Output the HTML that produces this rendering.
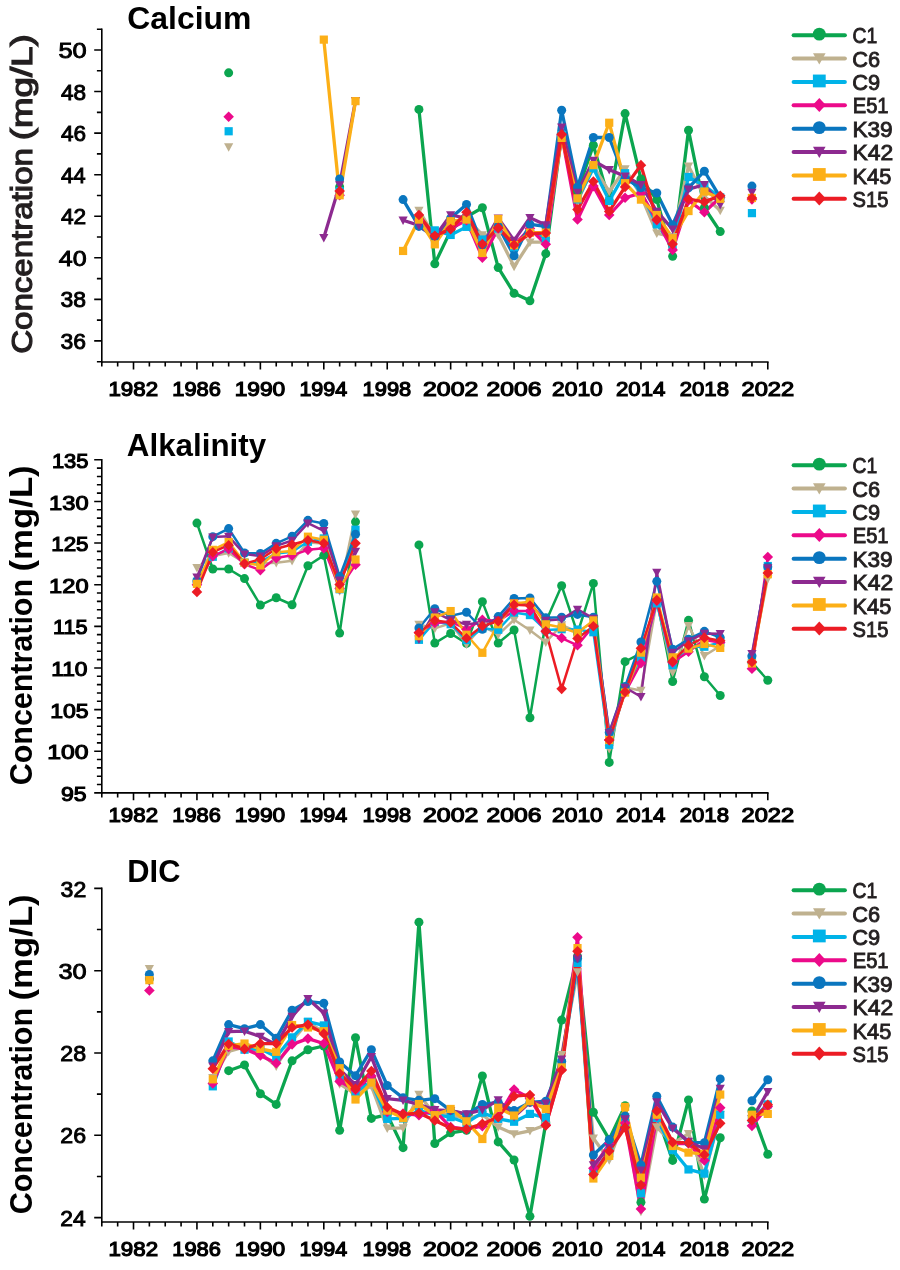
<!DOCTYPE html>
<html lang="en">
<head>
<meta charset="utf-8">
<title>Calcium, Alkalinity and DIC concentrations</title>
<style>
html,body{margin:0;padding:0;background:#fff;}
body{width:900px;height:1270px;overflow:hidden;}
svg{display:block;font-family:"Liberation Sans",Arial,Helvetica,sans-serif;font-weight:bold;fill:#000;}
.tk{font-size:21.7px;font-weight:normal;stroke:#000;stroke-width:0.9px;stroke-linejoin:miter;}
.lg{font-size:22.3px;fill:#231f20;font-weight:normal;stroke:#231f20;stroke-width:0.9px;stroke-linejoin:miter;}
.yl{font-size:30.0px;fill:#231f20;font-weight:normal;stroke:#231f20;stroke-width:1.2px;stroke-linejoin:miter;}
.xk{font-size:20.8px;font-weight:normal;stroke:#000;stroke-width:1.2px;stroke-linejoin:miter;}
.tk2{font-size:20.9px;font-weight:normal;stroke:#000;stroke-width:1.15px;stroke-linejoin:miter;}
.ti{font-size:30.6px;}
</style>
</head>
<body>
<svg width="900" height="1270" viewBox="0 0 900 1270">
<rect x="0" y="0" width="900" height="1270" fill="#fff"/>
<g>
<g stroke="#000" stroke-width="1.6" fill="none">
<path d="M101.8 28.42V362.8"/>
<path d="M101 362H768.59"/>
<path d="M101.8 340.92H94.2M101.8 299.36H94.2M101.8 257.8H94.2M101.8 216.24H94.2M101.8 174.68H94.2M101.8 133.12H94.2M101.8 91.56H94.2M101.8 50H94.2M101.8 361.7H96.9M101.8 320.14H96.9M101.8 278.58H96.9M101.8 237.02H96.9M101.8 195.46H96.9M101.8 153.9H96.9M101.8 112.34H96.9M101.8 70.78H96.9M101.8 29.22H96.9M101.8 362V366.6M117.66 362V366.6M133.51 362V369.4M149.37 362V366.6M165.23 362V366.6M181.08 362V366.6M196.94 362V369.4M212.8 362V366.6M228.66 362V366.6M244.51 362V366.6M260.37 362V369.4M276.23 362V366.6M292.08 362V366.6M307.94 362V366.6M323.8 362V369.4M339.65 362V366.6M355.51 362V366.6M371.37 362V366.6M387.23 362V369.4M403.08 362V366.6M418.94 362V366.6M434.8 362V366.6M450.65 362V369.4M466.51 362V366.6M482.37 362V366.6M498.22 362V366.6M514.08 362V369.4M529.94 362V366.6M545.8 362V366.6M561.65 362V366.6M577.51 362V369.4M593.37 362V366.6M609.22 362V366.6M625.08 362V366.6M640.94 362V369.4M656.79 362V366.6M672.65 362V366.6M688.51 362V366.6M704.37 362V369.4M720.22 362V366.6M736.08 362V366.6M751.94 362V366.6M767.79 362V369.4"/>
</g>
<g>
<text class="tk" x="58.43" y="57.94" textLength="28.28" lengthAdjust="spacingAndGlyphs">50</text>
<text class="tk" x="60.94" y="99.5" textLength="25.12" lengthAdjust="spacingAndGlyphs">48</text>
<text class="tk" x="60.94" y="141.06" textLength="25.12" lengthAdjust="spacingAndGlyphs">46</text>
<text class="tk" x="60.95" y="182.62" textLength="24.77" lengthAdjust="spacingAndGlyphs">44</text>
<text class="tk" x="60.94" y="224.18" textLength="25.3" lengthAdjust="spacingAndGlyphs">42</text>
<text class="tk" x="58.89" y="265.74" textLength="27.81" lengthAdjust="spacingAndGlyphs">40</text>
<text class="tk" x="60.59" y="307.3" textLength="25.49" lengthAdjust="spacingAndGlyphs">38</text>
<text class="tk" x="60.59" y="348.86" textLength="25.49" lengthAdjust="spacingAndGlyphs">36</text>
</g>
<g>
<text class="xk" x="108.49" y="396.2" textLength="49.53" lengthAdjust="spacingAndGlyphs">1982</text>
<text class="xk" x="172.36" y="396.2" textLength="48.51" lengthAdjust="spacingAndGlyphs">1986</text>
<text class="xk" x="234.66" y="396.2" textLength="50.61" lengthAdjust="spacingAndGlyphs">1990</text>
<text class="xk" x="299.44" y="396.2" textLength="47.75" lengthAdjust="spacingAndGlyphs">1994</text>
<text class="xk" x="362.64" y="396.2" textLength="48.51" lengthAdjust="spacingAndGlyphs">1998</text>
<text class="xk" x="422.96" y="396.2" textLength="55.45" lengthAdjust="spacingAndGlyphs">2002</text>
<text class="xk" x="486.55" y="396.2" textLength="54.94" lengthAdjust="spacingAndGlyphs">2006</text>
<text class="xk" x="551.97" y="396.2" textLength="50.85" lengthAdjust="spacingAndGlyphs">2010</text>
<text class="xk" x="616.03" y="396.2" textLength="49.37" lengthAdjust="spacingAndGlyphs">2014</text>
<text class="xk" x="679.66" y="396.2" textLength="49.3" lengthAdjust="spacingAndGlyphs">2018</text>
<text class="xk" x="741.51" y="396.2" textLength="52.62" lengthAdjust="spacingAndGlyphs">2022</text>
</g>
<text class="ti" x="127.32" y="28.7" textLength="124.08" lengthAdjust="spacingAndGlyphs">Calcium</text>
<text class="yl" transform="translate(32.3 352.8) rotate(-90)" y="0"><tspan x="-1.05" textLength="205.84" lengthAdjust="spacingAndGlyphs">Concentration</tspan> <tspan x="212.51" textLength="106.05" lengthAdjust="spacingAndGlyphs">(mg/L)</tspan></text>
<g fill="none" stroke-width="3.3" stroke-linejoin="round" stroke-linecap="round">
<path d="M418.94 109.44L434.8 263.83L450.65 230.59L466.51 216.87L482.37 207.73L498.22 267.57L514.08 293.34L529.94 300.82L545.8 253.65L561.65 135L577.51 191.1L593.37 145.18L609.22 200.87L625.08 113.59L640.94 179.05L656.79 199.62L672.65 256.35L688.51 130.22L704.37 207.73L720.22 231.62" stroke="#0ba54f"/>
<path d="M418.94 210.43L434.8 236.82L450.65 224.35L466.51 218.12L482.37 234.95L498.22 234.95L514.08 266.54L529.94 242.22L545.8 242.01L561.65 135L577.51 201.49L593.37 166.17L609.22 191.52L625.08 168.87L640.94 195.26L656.79 233.08L672.65 236.82L688.51 166.17L704.37 196.3L720.22 210.43" stroke="#bfb18f"/>
<path d="M418.94 224.35L434.8 230.38L450.65 234.95L466.51 226.85L482.37 239.52L498.22 228.51L514.08 247.21L529.94 230.59L545.8 238.48L561.65 135L577.51 199.42L593.37 168.25L609.22 200.87L625.08 173.23L640.94 192.14L656.79 224.35L672.65 245.13L688.51 176.97L704.37 185.91L720.22 197.34" stroke="#00b3e8"/>
<path d="M418.94 220.2L434.8 236.82L450.65 228.51L466.51 220.2L482.37 257.6L498.22 228.51L514.08 245.13L529.94 228.51L545.8 244.3L561.65 135L577.51 219.57L593.37 186.12L609.22 215L625.08 197.75L640.94 193.18L656.79 220.2L672.65 249.91L688.51 200.45L704.37 212.3L720.22 197.34" stroke="#ec0a8a"/>
<path d="M403.08 199.62L418.94 226.43L434.8 236.82L450.65 218.12L466.51 204.4L482.37 245.13L498.22 226.43L514.08 255.73L529.94 224.35L545.8 226.43L561.65 110.27L577.51 186.95L593.37 137.49L609.22 137.49L625.08 178.64L640.94 187.78L656.79 192.97L672.65 224.98L688.51 187.78L704.37 171.16L720.22 197.34" stroke="#0a76bf"/>
<path d="M323.8 237.65L339.65 184.87L355.51 100.71M403.08 220.2L418.94 225.39L434.8 236.82L450.65 215L466.51 218.12L482.37 245.13L498.22 218.12L514.08 240.35L529.94 217.7L545.8 224.98L561.65 127.1L577.51 192.35L593.37 160.56L609.22 169.7L625.08 176.14L640.94 184.66L656.79 211.47L672.65 229.13L688.51 189.23L704.37 184.66L720.22 204.61" stroke="#8d2a90"/>
<path d="M323.8 39.62L339.65 195.26L355.51 101.13M403.08 250.95L418.94 219.57L434.8 244.3L450.65 221.23L466.51 219.57L482.37 253.03L498.22 218.95L514.08 245.13L529.94 232.66L545.8 232.66L561.65 137.91L577.51 198.38L593.37 165.13L609.22 122.74L625.08 183.21L640.94 199.62L656.79 215L672.65 238.27L688.51 211.05L704.37 191.52L720.22 198.79" stroke="#fcaf17"/>
<path d="M418.94 215L434.8 235.78L450.65 229.13L466.51 212.3L482.37 244.09L498.22 227.68L514.08 244.92L529.94 233.7L545.8 233.08L561.65 134.37L577.51 209.6L593.37 181.55L609.22 211.47L625.08 186.95L640.94 165.13L656.79 219.57L672.65 244.09L688.51 199.21L704.37 201.91L720.22 195.68" stroke="#ec1c24"/>
</g>
<g>
<circle cx="228.66" cy="72.87" r="4.5" fill="#0ba54f"/>
<circle cx="339.65" cy="186.95" r="4.5" fill="#0ba54f"/>
<circle cx="418.94" cy="109.44" r="4.5" fill="#0ba54f"/>
<circle cx="434.8" cy="263.83" r="4.5" fill="#0ba54f"/>
<circle cx="450.65" cy="230.59" r="4.5" fill="#0ba54f"/>
<circle cx="466.51" cy="216.87" r="4.5" fill="#0ba54f"/>
<circle cx="482.37" cy="207.73" r="4.5" fill="#0ba54f"/>
<circle cx="498.22" cy="267.57" r="4.5" fill="#0ba54f"/>
<circle cx="514.08" cy="293.34" r="4.5" fill="#0ba54f"/>
<circle cx="529.94" cy="300.82" r="4.5" fill="#0ba54f"/>
<circle cx="545.8" cy="253.65" r="4.5" fill="#0ba54f"/>
<circle cx="561.65" cy="135" r="4.5" fill="#0ba54f"/>
<circle cx="577.51" cy="191.1" r="4.5" fill="#0ba54f"/>
<circle cx="593.37" cy="145.18" r="4.5" fill="#0ba54f"/>
<circle cx="609.22" cy="200.87" r="4.5" fill="#0ba54f"/>
<circle cx="625.08" cy="113.59" r="4.5" fill="#0ba54f"/>
<circle cx="640.94" cy="179.05" r="4.5" fill="#0ba54f"/>
<circle cx="656.79" cy="199.62" r="4.5" fill="#0ba54f"/>
<circle cx="672.65" cy="256.35" r="4.5" fill="#0ba54f"/>
<circle cx="688.51" cy="130.22" r="4.5" fill="#0ba54f"/>
<circle cx="704.37" cy="207.73" r="4.5" fill="#0ba54f"/>
<circle cx="720.22" cy="231.62" r="4.5" fill="#0ba54f"/>
<path d="M224.06 143.14L233.26 143.14L228.66 151.64Z" fill="#bfb18f"/>
<path d="M335.05 189.48L344.25 189.48L339.65 197.98Z" fill="#bfb18f"/>
<path d="M414.34 206.73L423.54 206.73L418.94 215.23Z" fill="#bfb18f"/>
<path d="M430.2 233.12L439.4 233.12L434.8 241.62Z" fill="#bfb18f"/>
<path d="M446.05 220.65L455.25 220.65L450.65 229.15Z" fill="#bfb18f"/>
<path d="M461.91 214.42L471.11 214.42L466.51 222.92Z" fill="#bfb18f"/>
<path d="M477.77 231.25L486.97 231.25L482.37 239.75Z" fill="#bfb18f"/>
<path d="M493.62 231.25L502.82 231.25L498.22 239.75Z" fill="#bfb18f"/>
<path d="M509.48 262.84L518.68 262.84L514.08 271.34Z" fill="#bfb18f"/>
<path d="M525.34 238.52L534.54 238.52L529.94 247.02Z" fill="#bfb18f"/>
<path d="M541.2 238.31L550.4 238.31L545.8 246.81Z" fill="#bfb18f"/>
<path d="M557.05 131.3L566.25 131.3L561.65 139.8Z" fill="#bfb18f"/>
<path d="M572.91 197.79L582.11 197.79L577.51 206.29Z" fill="#bfb18f"/>
<path d="M588.77 162.47L597.97 162.47L593.37 170.97Z" fill="#bfb18f"/>
<path d="M604.62 187.82L613.82 187.82L609.22 196.32Z" fill="#bfb18f"/>
<path d="M620.48 165.17L629.68 165.17L625.08 173.67Z" fill="#bfb18f"/>
<path d="M636.34 191.56L645.54 191.56L640.94 200.06Z" fill="#bfb18f"/>
<path d="M652.19 229.38L661.39 229.38L656.79 237.88Z" fill="#bfb18f"/>
<path d="M668.05 233.12L677.25 233.12L672.65 241.62Z" fill="#bfb18f"/>
<path d="M683.91 162.47L693.11 162.47L688.51 170.97Z" fill="#bfb18f"/>
<path d="M699.77 192.6L708.97 192.6L704.37 201.1Z" fill="#bfb18f"/>
<path d="M715.62 206.73L724.82 206.73L720.22 215.23Z" fill="#bfb18f"/>
<rect x="224.56" y="127.16" width="8.2" height="8.2" fill="#00b3e8"/>
<rect x="335.55" y="187" width="8.2" height="8.2" fill="#00b3e8"/>
<rect x="414.84" y="220.25" width="8.2" height="8.2" fill="#00b3e8"/>
<rect x="430.7" y="226.28" width="8.2" height="8.2" fill="#00b3e8"/>
<rect x="446.55" y="230.85" width="8.2" height="8.2" fill="#00b3e8"/>
<rect x="462.41" y="222.75" width="8.2" height="8.2" fill="#00b3e8"/>
<rect x="478.27" y="235.42" width="8.2" height="8.2" fill="#00b3e8"/>
<rect x="494.12" y="224.41" width="8.2" height="8.2" fill="#00b3e8"/>
<rect x="509.98" y="243.11" width="8.2" height="8.2" fill="#00b3e8"/>
<rect x="525.84" y="226.49" width="8.2" height="8.2" fill="#00b3e8"/>
<rect x="541.7" y="234.38" width="8.2" height="8.2" fill="#00b3e8"/>
<rect x="557.55" y="130.9" width="8.2" height="8.2" fill="#00b3e8"/>
<rect x="573.41" y="195.32" width="8.2" height="8.2" fill="#00b3e8"/>
<rect x="589.27" y="164.15" width="8.2" height="8.2" fill="#00b3e8"/>
<rect x="605.12" y="196.77" width="8.2" height="8.2" fill="#00b3e8"/>
<rect x="620.98" y="169.13" width="8.2" height="8.2" fill="#00b3e8"/>
<rect x="636.84" y="188.04" width="8.2" height="8.2" fill="#00b3e8"/>
<rect x="652.69" y="220.25" width="8.2" height="8.2" fill="#00b3e8"/>
<rect x="668.55" y="241.03" width="8.2" height="8.2" fill="#00b3e8"/>
<rect x="684.41" y="172.87" width="8.2" height="8.2" fill="#00b3e8"/>
<rect x="700.27" y="181.81" width="8.2" height="8.2" fill="#00b3e8"/>
<rect x="716.12" y="193.24" width="8.2" height="8.2" fill="#00b3e8"/>
<rect x="747.84" y="209.03" width="8.2" height="8.2" fill="#00b3e8"/>
<path d="M228.66 111.41L233.96 116.71L228.66 122.01L223.36 116.71Z" fill="#ec0a8a"/>
<path d="M339.65 189.96L344.95 195.26L339.65 200.56L334.35 195.26Z" fill="#ec0a8a"/>
<path d="M418.94 214.9L424.24 220.2L418.94 225.5L413.64 220.2Z" fill="#ec0a8a"/>
<path d="M434.8 231.52L440.1 236.82L434.8 242.12L429.5 236.82Z" fill="#ec0a8a"/>
<path d="M450.65 223.21L455.95 228.51L450.65 233.81L445.35 228.51Z" fill="#ec0a8a"/>
<path d="M466.51 214.9L471.81 220.2L466.51 225.5L461.21 220.2Z" fill="#ec0a8a"/>
<path d="M482.37 252.3L487.67 257.6L482.37 262.9L477.07 257.6Z" fill="#ec0a8a"/>
<path d="M498.22 223.21L503.52 228.51L498.22 233.81L492.92 228.51Z" fill="#ec0a8a"/>
<path d="M514.08 239.83L519.38 245.13L514.08 250.43L508.78 245.13Z" fill="#ec0a8a"/>
<path d="M529.94 223.21L535.24 228.51L529.94 233.81L524.64 228.51Z" fill="#ec0a8a"/>
<path d="M545.8 239L551.1 244.3L545.8 249.6L540.5 244.3Z" fill="#ec0a8a"/>
<path d="M561.65 129.7L566.95 135L561.65 140.3L556.35 135Z" fill="#ec0a8a"/>
<path d="M577.51 214.27L582.81 219.57L577.51 224.87L572.21 219.57Z" fill="#ec0a8a"/>
<path d="M593.37 180.82L598.67 186.12L593.37 191.42L588.07 186.12Z" fill="#ec0a8a"/>
<path d="M609.22 209.7L614.52 215L609.22 220.3L603.92 215Z" fill="#ec0a8a"/>
<path d="M625.08 192.45L630.38 197.75L625.08 203.05L619.78 197.75Z" fill="#ec0a8a"/>
<path d="M640.94 187.88L646.24 193.18L640.94 198.48L635.64 193.18Z" fill="#ec0a8a"/>
<path d="M656.79 214.9L662.09 220.2L656.79 225.5L651.5 220.2Z" fill="#ec0a8a"/>
<path d="M672.65 244.61L677.95 249.91L672.65 255.21L667.35 249.91Z" fill="#ec0a8a"/>
<path d="M688.51 195.15L693.81 200.45L688.51 205.75L683.21 200.45Z" fill="#ec0a8a"/>
<path d="M704.37 207L709.67 212.3L704.37 217.6L699.07 212.3Z" fill="#ec0a8a"/>
<path d="M720.22 192.04L725.52 197.34L720.22 202.64L714.92 197.34Z" fill="#ec0a8a"/>
<path d="M751.94 194.12L757.24 199.42L751.94 204.72L746.64 199.42Z" fill="#ec0a8a"/>
<circle cx="339.65" cy="179.05" r="4.5" fill="#0a76bf"/>
<circle cx="403.08" cy="199.62" r="4.5" fill="#0a76bf"/>
<circle cx="418.94" cy="226.43" r="4.5" fill="#0a76bf"/>
<circle cx="434.8" cy="236.82" r="4.5" fill="#0a76bf"/>
<circle cx="450.65" cy="218.12" r="4.5" fill="#0a76bf"/>
<circle cx="466.51" cy="204.4" r="4.5" fill="#0a76bf"/>
<circle cx="482.37" cy="245.13" r="4.5" fill="#0a76bf"/>
<circle cx="498.22" cy="226.43" r="4.5" fill="#0a76bf"/>
<circle cx="514.08" cy="255.73" r="4.5" fill="#0a76bf"/>
<circle cx="529.94" cy="224.35" r="4.5" fill="#0a76bf"/>
<circle cx="545.8" cy="226.43" r="4.5" fill="#0a76bf"/>
<circle cx="561.65" cy="110.27" r="4.5" fill="#0a76bf"/>
<circle cx="577.51" cy="186.95" r="4.5" fill="#0a76bf"/>
<circle cx="593.37" cy="137.49" r="4.5" fill="#0a76bf"/>
<circle cx="609.22" cy="137.49" r="4.5" fill="#0a76bf"/>
<circle cx="625.08" cy="178.64" r="4.5" fill="#0a76bf"/>
<circle cx="640.94" cy="187.78" r="4.5" fill="#0a76bf"/>
<circle cx="656.79" cy="192.97" r="4.5" fill="#0a76bf"/>
<circle cx="672.65" cy="224.98" r="4.5" fill="#0a76bf"/>
<circle cx="688.51" cy="187.78" r="4.5" fill="#0a76bf"/>
<circle cx="704.37" cy="171.16" r="4.5" fill="#0a76bf"/>
<circle cx="720.22" cy="197.34" r="4.5" fill="#0a76bf"/>
<circle cx="751.94" cy="186.12" r="4.5" fill="#0a76bf"/>
<path d="M319.2 233.95L328.4 233.95L323.8 242.45Z" fill="#8d2a90"/>
<path d="M335.05 181.17L344.25 181.17L339.65 189.67Z" fill="#8d2a90"/>
<path d="M350.91 97.01L360.11 97.01L355.51 105.51Z" fill="#8d2a90"/>
<path d="M398.48 216.5L407.68 216.5L403.08 225Z" fill="#8d2a90"/>
<path d="M414.34 221.69L423.54 221.69L418.94 230.19Z" fill="#8d2a90"/>
<path d="M430.2 233.12L439.4 233.12L434.8 241.62Z" fill="#8d2a90"/>
<path d="M446.05 211.3L455.25 211.3L450.65 219.8Z" fill="#8d2a90"/>
<path d="M461.91 214.42L471.11 214.42L466.51 222.92Z" fill="#8d2a90"/>
<path d="M477.77 241.43L486.97 241.43L482.37 249.93Z" fill="#8d2a90"/>
<path d="M493.62 214.42L502.82 214.42L498.22 222.92Z" fill="#8d2a90"/>
<path d="M509.48 236.65L518.68 236.65L514.08 245.15Z" fill="#8d2a90"/>
<path d="M525.34 214L534.54 214L529.94 222.5Z" fill="#8d2a90"/>
<path d="M541.2 221.28L550.4 221.28L545.8 229.78Z" fill="#8d2a90"/>
<path d="M557.05 123.4L566.25 123.4L561.65 131.9Z" fill="#8d2a90"/>
<path d="M572.91 188.65L582.11 188.65L577.51 197.15Z" fill="#8d2a90"/>
<path d="M588.77 156.86L597.97 156.86L593.37 165.36Z" fill="#8d2a90"/>
<path d="M604.62 166L613.82 166L609.22 174.5Z" fill="#8d2a90"/>
<path d="M620.48 172.44L629.68 172.44L625.08 180.94Z" fill="#8d2a90"/>
<path d="M636.34 180.96L645.54 180.96L640.94 189.46Z" fill="#8d2a90"/>
<path d="M652.19 207.77L661.39 207.77L656.79 216.27Z" fill="#8d2a90"/>
<path d="M668.05 225.43L677.25 225.43L672.65 233.93Z" fill="#8d2a90"/>
<path d="M683.91 185.53L693.11 185.53L688.51 194.03Z" fill="#8d2a90"/>
<path d="M699.77 180.96L708.97 180.96L704.37 189.46Z" fill="#8d2a90"/>
<path d="M715.62 200.91L724.82 200.91L720.22 209.41Z" fill="#8d2a90"/>
<path d="M747.34 188.86L756.54 188.86L751.94 197.36Z" fill="#8d2a90"/>
<rect x="319.7" y="35.52" width="8.2" height="8.2" fill="#fcaf17"/>
<rect x="335.55" y="191.16" width="8.2" height="8.2" fill="#fcaf17"/>
<rect x="351.41" y="97.03" width="8.2" height="8.2" fill="#fcaf17"/>
<rect x="398.98" y="246.85" width="8.2" height="8.2" fill="#fcaf17"/>
<rect x="414.84" y="215.47" width="8.2" height="8.2" fill="#fcaf17"/>
<rect x="430.7" y="240.2" width="8.2" height="8.2" fill="#fcaf17"/>
<rect x="446.55" y="217.13" width="8.2" height="8.2" fill="#fcaf17"/>
<rect x="462.41" y="215.47" width="8.2" height="8.2" fill="#fcaf17"/>
<rect x="478.27" y="248.93" width="8.2" height="8.2" fill="#fcaf17"/>
<rect x="494.12" y="214.85" width="8.2" height="8.2" fill="#fcaf17"/>
<rect x="509.98" y="241.03" width="8.2" height="8.2" fill="#fcaf17"/>
<rect x="525.84" y="228.56" width="8.2" height="8.2" fill="#fcaf17"/>
<rect x="541.7" y="228.56" width="8.2" height="8.2" fill="#fcaf17"/>
<rect x="557.55" y="133.81" width="8.2" height="8.2" fill="#fcaf17"/>
<rect x="573.41" y="194.28" width="8.2" height="8.2" fill="#fcaf17"/>
<rect x="589.27" y="161.03" width="8.2" height="8.2" fill="#fcaf17"/>
<rect x="605.12" y="118.64" width="8.2" height="8.2" fill="#fcaf17"/>
<rect x="620.98" y="179.11" width="8.2" height="8.2" fill="#fcaf17"/>
<rect x="636.84" y="195.52" width="8.2" height="8.2" fill="#fcaf17"/>
<rect x="652.69" y="210.9" width="8.2" height="8.2" fill="#fcaf17"/>
<rect x="668.55" y="234.17" width="8.2" height="8.2" fill="#fcaf17"/>
<rect x="684.41" y="206.95" width="8.2" height="8.2" fill="#fcaf17"/>
<rect x="700.27" y="187.42" width="8.2" height="8.2" fill="#fcaf17"/>
<rect x="716.12" y="194.69" width="8.2" height="8.2" fill="#fcaf17"/>
<rect x="747.84" y="193.86" width="8.2" height="8.2" fill="#fcaf17"/>
<path d="M339.65 185.8L344.95 191.1L339.65 196.4L334.35 191.1Z" fill="#ec1c24"/>
<path d="M418.94 209.7L424.24 215L418.94 220.3L413.64 215Z" fill="#ec1c24"/>
<path d="M434.8 230.48L440.1 235.78L434.8 241.08L429.5 235.78Z" fill="#ec1c24"/>
<path d="M450.65 223.83L455.95 229.13L450.65 234.43L445.35 229.13Z" fill="#ec1c24"/>
<path d="M466.51 207L471.81 212.3L466.51 217.6L461.21 212.3Z" fill="#ec1c24"/>
<path d="M482.37 238.79L487.67 244.09L482.37 249.39L477.07 244.09Z" fill="#ec1c24"/>
<path d="M498.22 222.38L503.52 227.68L498.22 232.98L492.92 227.68Z" fill="#ec1c24"/>
<path d="M514.08 239.62L519.38 244.92L514.08 250.22L508.78 244.92Z" fill="#ec1c24"/>
<path d="M529.94 228.4L535.24 233.7L529.94 239L524.64 233.7Z" fill="#ec1c24"/>
<path d="M545.8 227.78L551.1 233.08L545.8 238.38L540.5 233.08Z" fill="#ec1c24"/>
<path d="M561.65 129.07L566.95 134.37L561.65 139.67L556.35 134.37Z" fill="#ec1c24"/>
<path d="M577.51 204.3L582.81 209.6L577.51 214.9L572.21 209.6Z" fill="#ec1c24"/>
<path d="M593.37 176.25L598.67 181.55L593.37 186.85L588.07 181.55Z" fill="#ec1c24"/>
<path d="M609.22 206.17L614.52 211.47L609.22 216.77L603.92 211.47Z" fill="#ec1c24"/>
<path d="M625.08 181.65L630.38 186.95L625.08 192.25L619.78 186.95Z" fill="#ec1c24"/>
<path d="M640.94 159.83L646.24 165.13L640.94 170.43L635.64 165.13Z" fill="#ec1c24"/>
<path d="M656.79 214.27L662.09 219.57L656.79 224.87L651.5 219.57Z" fill="#ec1c24"/>
<path d="M672.65 238.79L677.95 244.09L672.65 249.39L667.35 244.09Z" fill="#ec1c24"/>
<path d="M688.51 193.91L693.81 199.21L688.51 204.51L683.21 199.21Z" fill="#ec1c24"/>
<path d="M704.37 196.61L709.67 201.91L704.37 207.21L699.07 201.91Z" fill="#ec1c24"/>
<path d="M720.22 190.38L725.52 195.68L720.22 200.98L714.92 195.68Z" fill="#ec1c24"/>
<path d="M751.94 192.66L757.24 197.96L751.94 203.26L746.64 197.96Z" fill="#ec1c24"/>
</g>
<g>
<path d="M793.6 35.2H844.9" stroke="#0ba54f" stroke-width="4" stroke-linecap="round" fill="none"/>
<circle cx="819.3" cy="34.1" r="6.4" fill="#0ba54f"/>
<text class="lg" x="852.48" y="43.3" textLength="24.7" lengthAdjust="spacingAndGlyphs">C1</text>
<path d="M793.6 58.58H844.9" stroke="#bfb18f" stroke-width="4" stroke-linecap="round" fill="none"/>
<path d="M813 53.18L825.6 53.18L819.3 64.58Z" fill="#bfb18f"/>
<text class="lg" x="852.36" y="66.68" textLength="27.83" lengthAdjust="spacingAndGlyphs">C6</text>
<path d="M793.6 81.96H844.9" stroke="#00b3e8" stroke-width="4" stroke-linecap="round" fill="none"/>
<rect x="812.9" y="74.56" width="12.8" height="12.8" fill="#00b3e8"/>
<text class="lg" x="852.36" y="90.06" textLength="27.89" lengthAdjust="spacingAndGlyphs">C9</text>
<path d="M793.6 105.34H844.9" stroke="#ec0a8a" stroke-width="4" stroke-linecap="round" fill="none"/>
<path d="M819.3 98.04L825.8 105.04L819.3 112.04L812.8 105.04Z" fill="#ec0a8a"/>
<text class="lg" x="852.69" y="113.44" textLength="35.86" lengthAdjust="spacingAndGlyphs">E51</text>
<path d="M793.6 128.72H844.9" stroke="#0a76bf" stroke-width="4" stroke-linecap="round" fill="none"/>
<circle cx="819.3" cy="127.62" r="6.4" fill="#0a76bf"/>
<text class="lg" x="852.49" y="136.82" textLength="40.22" lengthAdjust="spacingAndGlyphs">K39</text>
<path d="M793.6 152.1H844.9" stroke="#8d2a90" stroke-width="4" stroke-linecap="round" fill="none"/>
<path d="M813 146.7L825.6 146.7L819.3 158.1Z" fill="#8d2a90"/>
<text class="lg" x="852.46" y="160.2" textLength="40.67" lengthAdjust="spacingAndGlyphs">K42</text>
<path d="M793.6 175.48H844.9" stroke="#fcaf17" stroke-width="4" stroke-linecap="round" fill="none"/>
<rect x="812.9" y="168.08" width="12.8" height="12.8" fill="#fcaf17"/>
<text class="lg" x="852.56" y="183.58" textLength="38.7" lengthAdjust="spacingAndGlyphs">K45</text>
<path d="M793.6 198.86H844.9" stroke="#ec1c24" stroke-width="4" stroke-linecap="round" fill="none"/>
<path d="M819.3 191.56L825.8 198.56L819.3 205.56L812.8 198.56Z" fill="#ec1c24"/>
<text class="lg" x="852.54" y="206.96" textLength="35.85" lengthAdjust="spacingAndGlyphs">S15</text>
</g>
</g>
<g>
<g stroke="#000" stroke-width="1.6" fill="none">
<path d="M101.8 459.01V793.7"/>
<path d="M101 792.9H768.59"/>
<path d="M101.8 792.85H94.2M101.8 751.22H94.2M101.8 709.59H94.2M101.8 667.96H94.2M101.8 626.33H94.2M101.8 584.7H94.2M101.8 543.07H94.2M101.8 501.44H94.2M101.8 459.81H94.2M101.8 784.52H96.9M101.8 776.2H96.9M101.8 767.87H96.9M101.8 759.55H96.9M101.8 742.89H96.9M101.8 734.57H96.9M101.8 726.24H96.9M101.8 717.92H96.9M101.8 701.26H96.9M101.8 692.94H96.9M101.8 684.61H96.9M101.8 676.29H96.9M101.8 659.63H96.9M101.8 651.31H96.9M101.8 642.98H96.9M101.8 634.66H96.9M101.8 618H96.9M101.8 609.68H96.9M101.8 601.35H96.9M101.8 593.03H96.9M101.8 576.37H96.9M101.8 568.05H96.9M101.8 559.72H96.9M101.8 551.4H96.9M101.8 534.74H96.9M101.8 526.42H96.9M101.8 518.09H96.9M101.8 509.77H96.9M101.8 493.11H96.9M101.8 484.79H96.9M101.8 476.46H96.9M101.8 468.14H96.9M101.8 792.9V797.5M117.66 792.9V797.5M133.51 792.9V800.3M149.37 792.9V797.5M165.23 792.9V797.5M181.08 792.9V797.5M196.94 792.9V800.3M212.8 792.9V797.5M228.66 792.9V797.5M244.51 792.9V797.5M260.37 792.9V800.3M276.23 792.9V797.5M292.08 792.9V797.5M307.94 792.9V797.5M323.8 792.9V800.3M339.65 792.9V797.5M355.51 792.9V797.5M371.37 792.9V797.5M387.23 792.9V800.3M403.08 792.9V797.5M418.94 792.9V797.5M434.8 792.9V797.5M450.65 792.9V800.3M466.51 792.9V797.5M482.37 792.9V797.5M498.22 792.9V797.5M514.08 792.9V800.3M529.94 792.9V797.5M545.8 792.9V797.5M561.65 792.9V797.5M577.51 792.9V800.3M593.37 792.9V797.5M609.22 792.9V797.5M625.08 792.9V797.5M640.94 792.9V800.3M656.79 792.9V797.5M672.65 792.9V797.5M688.51 792.9V797.5M704.37 792.9V800.3M720.22 792.9V797.5M736.08 792.9V797.5M751.94 792.9V797.5M767.79 792.9V800.3"/>
</g>
<g>
<text class="tk2" x="51.93" y="467.95" textLength="36.59" lengthAdjust="spacingAndGlyphs">135</text>
<text class="tk2" x="49.1" y="509.58" textLength="39.43" lengthAdjust="spacingAndGlyphs">130</text>
<text class="tk2" x="51.2" y="551.21" textLength="37.35" lengthAdjust="spacingAndGlyphs">125</text>
<text class="tk2" x="49.1" y="592.84" textLength="39.43" lengthAdjust="spacingAndGlyphs">120</text>
<text class="tk2" x="52.94" y="634.47" textLength="34.69" lengthAdjust="spacingAndGlyphs">115</text>
<text class="tk2" x="51.16" y="676.1" textLength="36.36" lengthAdjust="spacingAndGlyphs">110</text>
<text class="tk2" x="50.15" y="717.73" textLength="38.42" lengthAdjust="spacingAndGlyphs">105</text>
<text class="tk2" x="47.32" y="759.36" textLength="41.26" lengthAdjust="spacingAndGlyphs">100</text>
<text class="tk2" x="60.98" y="800.99" textLength="25.62" lengthAdjust="spacingAndGlyphs">95</text>
</g>
<g>
<text class="xk" x="108.49" y="822.4" textLength="49.53" lengthAdjust="spacingAndGlyphs">1982</text>
<text class="xk" x="172.36" y="822.4" textLength="48.51" lengthAdjust="spacingAndGlyphs">1986</text>
<text class="xk" x="234.66" y="822.4" textLength="50.61" lengthAdjust="spacingAndGlyphs">1990</text>
<text class="xk" x="299.44" y="822.4" textLength="47.75" lengthAdjust="spacingAndGlyphs">1994</text>
<text class="xk" x="362.64" y="822.4" textLength="48.51" lengthAdjust="spacingAndGlyphs">1998</text>
<text class="xk" x="422.96" y="822.4" textLength="55.45" lengthAdjust="spacingAndGlyphs">2002</text>
<text class="xk" x="486.55" y="822.4" textLength="54.94" lengthAdjust="spacingAndGlyphs">2006</text>
<text class="xk" x="551.97" y="822.4" textLength="50.85" lengthAdjust="spacingAndGlyphs">2010</text>
<text class="xk" x="616.03" y="822.4" textLength="49.37" lengthAdjust="spacingAndGlyphs">2014</text>
<text class="xk" x="679.66" y="822.4" textLength="49.3" lengthAdjust="spacingAndGlyphs">2018</text>
<text class="xk" x="741.51" y="822.4" textLength="52.62" lengthAdjust="spacingAndGlyphs">2022</text>
</g>
<text class="ti" x="126.82" y="456" textLength="139.37" lengthAdjust="spacingAndGlyphs">Alkalinity</text>
<text class="ti" transform="translate(32.3 784) rotate(-90)" y="0"><tspan x="-1.22" textLength="206.26" lengthAdjust="spacingAndGlyphs">Concentration</tspan> <tspan x="212.46" textLength="106.27" lengthAdjust="spacingAndGlyphs">(mg/L)</tspan></text>
<g fill="none" stroke-width="2.5" stroke-linejoin="round" stroke-linecap="round">
<path d="M196.94 523.11L212.8 569.01L228.66 569.01L244.51 578.59L260.37 605.08L276.23 597.74L292.08 604.74L307.94 565.76L323.8 555.34L339.65 633.06L355.51 521.86M418.94 544.93L434.8 643.06L450.65 633.48L466.51 643.39L482.37 601.66L498.22 643.06L514.08 629.98L529.94 717.7L545.8 621.74L561.65 585.75L577.51 633.4L593.37 583.42L609.22 762.43L625.08 661.64L640.94 653.47L656.79 599.24L672.65 681.46L688.51 620.32L704.37 676.71L720.22 695.46M751.94 662.55L767.79 680.21" stroke="#0ba54f"/>
<path d="M196.94 567.76L212.8 555.93L228.66 553.01L244.51 562.59L260.37 563.42L276.23 562.76L292.08 560.76L307.94 542.6L323.8 543.43L339.65 590.91L355.51 514.11M418.94 624.48L434.8 628.4L450.65 623.4L466.51 644.23L482.37 625.9L498.22 634.73L514.08 619.74L529.94 630.31L545.8 642.14L561.65 625.07L577.51 631.73L593.37 621.74L609.22 748.77L625.08 687.54L640.94 690.46L656.79 600.91L672.65 672.3L688.51 625.82L704.37 655.72L720.22 645.89M751.94 659.22L767.79 578.59" stroke="#bfb18f"/>
<path d="M196.94 581.75L212.8 556.76L228.66 548.43L244.51 562.59L260.37 561.76L276.23 553.43L292.08 551.76L307.94 541.77L323.8 538.43L339.65 589.25L355.51 529.69M418.94 639.81L434.8 621.74L450.65 624.23L466.51 640.06L482.37 628.4L498.22 629.73L514.08 612.57L529.94 615.07L545.8 630.07L561.65 629.23L577.51 629.57L593.37 632.23L609.22 744.77L625.08 690.04L640.94 657.39L656.79 603.41L672.65 665.22L688.51 646.73L704.37 646.73L720.22 642.56M751.94 659.22L767.79 566.01" stroke="#00b3e8"/>
<path d="M196.94 584.67L212.8 556.09L228.66 549.1L244.51 564.26L260.37 570.09L276.23 558.09L292.08 555.34L307.94 549.85L323.8 548.35L339.65 588.41L355.51 564.67M418.94 632.56L434.8 622.9L450.65 621.74L466.51 629.23L482.37 619.74L498.22 620.9L514.08 611.07L529.94 611.07L545.8 630.9L561.65 638.06L577.51 645.31L593.37 625.9L609.22 740.02L625.08 692.54L640.94 663.22L656.79 600.91L672.65 662.55L688.51 651.81L704.37 640.06L720.22 642.56M751.94 668.8L767.79 557.01" stroke="#ec0a8a"/>
<path d="M196.94 580.92L212.8 536.69L228.66 528.61L244.51 553.01L260.37 553.43L276.23 543.35L292.08 536.35L307.94 520.36L323.8 523.44L339.65 576.59L355.51 534.35M418.94 627.98L434.8 608.74L450.65 615.9L466.51 612.24L482.37 629.23L498.22 616.57L514.08 598.49L529.94 597.99L545.8 617.74L561.65 617.24L577.51 614.4L593.37 617.24L609.22 732.52L625.08 686.54L640.94 641.98L656.79 581.33L672.65 649.14L688.51 639.23L704.37 631.31L720.22 637.56M751.94 655.89L767.79 566.76" stroke="#0a76bf"/>
<path d="M196.94 577.09L212.8 537.1L228.66 536.35L244.51 554.1L260.37 556.09L276.23 545.93L292.08 540.52L307.94 523.11L323.8 530.77L339.65 580.09L355.51 551.43M418.94 639.23L434.8 611.91L450.65 620.07L466.51 624.48L482.37 622.15L498.22 620.07L514.08 602.58L529.94 604.24L545.8 620.4L561.65 619.32L577.51 609.41L593.37 618.4L609.22 733.02L625.08 687.54L640.94 696.79L656.79 572.34L672.65 652.56L688.51 640.89L704.37 633.4L720.22 633.73M751.94 653.72L767.79 568.01" stroke="#8d2a90"/>
<path d="M196.94 583.83L212.8 549.85L228.66 542.1L244.51 562.59L260.37 565.42L276.23 552.18L292.08 550.93L307.94 536.69L323.8 539.77L339.65 588.83L355.51 559.51M418.94 636.15L434.8 617.57L450.65 611.07L466.51 634.73L482.37 652.81L498.22 624.23L514.08 603.41L529.94 601.74L545.8 624.32L561.65 627.48L577.51 632.98L593.37 620.4L609.22 740.02L625.08 692.54L640.94 652.64L656.79 597.49L672.65 657.3L688.51 648.64L704.37 643.98L720.22 647.89M751.94 663.38L767.79 574.25" stroke="#fcaf17"/>
<path d="M196.94 591.91L212.8 552.18L228.66 545.18L244.51 563.59L260.37 559.26L276.23 548.76L292.08 544.43L307.94 540.27L323.8 543.35L339.65 584.5L355.51 543.35M418.94 632.73L434.8 620.57L450.65 622.57L466.51 638.31L482.37 626.07L498.22 621.32L514.08 604.83L529.94 605.57L545.8 631.4L561.65 688.87L577.51 638.48L593.37 626.23L609.22 740.1L625.08 692.04L640.94 648.22L656.79 600.08L672.65 661.55L688.51 645.23L704.37 637.65L720.22 640.81M751.94 662.05L767.79 573.09" stroke="#ec1c24"/>
</g>
<g>
<circle cx="196.94" cy="523.11" r="4.5" fill="#0ba54f"/>
<circle cx="212.8" cy="569.01" r="4.5" fill="#0ba54f"/>
<circle cx="228.66" cy="569.01" r="4.5" fill="#0ba54f"/>
<circle cx="244.51" cy="578.59" r="4.5" fill="#0ba54f"/>
<circle cx="260.37" cy="605.08" r="4.5" fill="#0ba54f"/>
<circle cx="276.23" cy="597.74" r="4.5" fill="#0ba54f"/>
<circle cx="292.08" cy="604.74" r="4.5" fill="#0ba54f"/>
<circle cx="307.94" cy="565.76" r="4.5" fill="#0ba54f"/>
<circle cx="323.8" cy="555.34" r="4.5" fill="#0ba54f"/>
<circle cx="339.65" cy="633.06" r="4.5" fill="#0ba54f"/>
<circle cx="355.51" cy="521.86" r="4.5" fill="#0ba54f"/>
<circle cx="418.94" cy="544.93" r="4.5" fill="#0ba54f"/>
<circle cx="434.8" cy="643.06" r="4.5" fill="#0ba54f"/>
<circle cx="450.65" cy="633.48" r="4.5" fill="#0ba54f"/>
<circle cx="466.51" cy="643.39" r="4.5" fill="#0ba54f"/>
<circle cx="482.37" cy="601.66" r="4.5" fill="#0ba54f"/>
<circle cx="498.22" cy="643.06" r="4.5" fill="#0ba54f"/>
<circle cx="514.08" cy="629.98" r="4.5" fill="#0ba54f"/>
<circle cx="529.94" cy="717.7" r="4.5" fill="#0ba54f"/>
<circle cx="545.8" cy="621.74" r="4.5" fill="#0ba54f"/>
<circle cx="561.65" cy="585.75" r="4.5" fill="#0ba54f"/>
<circle cx="577.51" cy="633.4" r="4.5" fill="#0ba54f"/>
<circle cx="593.37" cy="583.42" r="4.5" fill="#0ba54f"/>
<circle cx="609.22" cy="762.43" r="4.5" fill="#0ba54f"/>
<circle cx="625.08" cy="661.64" r="4.5" fill="#0ba54f"/>
<circle cx="640.94" cy="653.47" r="4.5" fill="#0ba54f"/>
<circle cx="656.79" cy="599.24" r="4.5" fill="#0ba54f"/>
<circle cx="672.65" cy="681.46" r="4.5" fill="#0ba54f"/>
<circle cx="688.51" cy="620.32" r="4.5" fill="#0ba54f"/>
<circle cx="704.37" cy="676.71" r="4.5" fill="#0ba54f"/>
<circle cx="720.22" cy="695.46" r="4.5" fill="#0ba54f"/>
<circle cx="751.94" cy="662.55" r="4.5" fill="#0ba54f"/>
<circle cx="767.79" cy="680.21" r="4.5" fill="#0ba54f"/>
<path d="M192.34 564.06L201.54 564.06L196.94 572.56Z" fill="#bfb18f"/>
<path d="M208.2 552.23L217.4 552.23L212.8 560.73Z" fill="#bfb18f"/>
<path d="M224.06 549.31L233.26 549.31L228.66 557.81Z" fill="#bfb18f"/>
<path d="M239.91 558.89L249.11 558.89L244.51 567.39Z" fill="#bfb18f"/>
<path d="M255.77 559.72L264.97 559.72L260.37 568.22Z" fill="#bfb18f"/>
<path d="M271.63 559.06L280.83 559.06L276.23 567.56Z" fill="#bfb18f"/>
<path d="M287.48 557.06L296.68 557.06L292.08 565.56Z" fill="#bfb18f"/>
<path d="M303.34 538.9L312.54 538.9L307.94 547.4Z" fill="#bfb18f"/>
<path d="M319.2 539.73L328.4 539.73L323.8 548.23Z" fill="#bfb18f"/>
<path d="M335.05 587.21L344.25 587.21L339.65 595.71Z" fill="#bfb18f"/>
<path d="M350.91 510.41L360.11 510.41L355.51 518.91Z" fill="#bfb18f"/>
<path d="M414.34 620.78L423.54 620.78L418.94 629.28Z" fill="#bfb18f"/>
<path d="M430.2 624.7L439.4 624.7L434.8 633.2Z" fill="#bfb18f"/>
<path d="M446.05 619.7L455.25 619.7L450.65 628.2Z" fill="#bfb18f"/>
<path d="M461.91 640.53L471.11 640.53L466.51 649.03Z" fill="#bfb18f"/>
<path d="M477.77 622.2L486.97 622.2L482.37 630.7Z" fill="#bfb18f"/>
<path d="M493.62 631.03L502.82 631.03L498.22 639.53Z" fill="#bfb18f"/>
<path d="M509.48 616.04L518.68 616.04L514.08 624.54Z" fill="#bfb18f"/>
<path d="M525.34 626.61L534.54 626.61L529.94 635.11Z" fill="#bfb18f"/>
<path d="M541.2 638.44L550.4 638.44L545.8 646.94Z" fill="#bfb18f"/>
<path d="M557.05 621.37L566.25 621.37L561.65 629.87Z" fill="#bfb18f"/>
<path d="M572.91 628.03L582.11 628.03L577.51 636.53Z" fill="#bfb18f"/>
<path d="M588.77 618.03L597.97 618.03L593.37 626.53Z" fill="#bfb18f"/>
<path d="M604.62 745.07L613.82 745.07L609.22 753.57Z" fill="#bfb18f"/>
<path d="M620.48 683.84L629.68 683.84L625.08 692.34Z" fill="#bfb18f"/>
<path d="M636.34 686.76L645.54 686.76L640.94 695.26Z" fill="#bfb18f"/>
<path d="M652.19 597.21L661.39 597.21L656.79 605.71Z" fill="#bfb18f"/>
<path d="M668.05 668.6L677.25 668.6L672.65 677.1Z" fill="#bfb18f"/>
<path d="M683.91 622.12L693.11 622.12L688.51 630.62Z" fill="#bfb18f"/>
<path d="M699.77 652.02L708.97 652.02L704.37 660.52Z" fill="#bfb18f"/>
<path d="M715.62 642.19L724.82 642.19L720.22 650.69Z" fill="#bfb18f"/>
<path d="M747.34 655.52L756.54 655.52L751.94 664.02Z" fill="#bfb18f"/>
<path d="M763.19 574.89L772.39 574.89L767.79 583.39Z" fill="#bfb18f"/>
<rect x="192.84" y="577.65" width="8.2" height="8.2" fill="#00b3e8"/>
<rect x="208.7" y="552.66" width="8.2" height="8.2" fill="#00b3e8"/>
<rect x="224.56" y="544.33" width="8.2" height="8.2" fill="#00b3e8"/>
<rect x="240.41" y="558.49" width="8.2" height="8.2" fill="#00b3e8"/>
<rect x="256.27" y="557.66" width="8.2" height="8.2" fill="#00b3e8"/>
<rect x="272.13" y="549.33" width="8.2" height="8.2" fill="#00b3e8"/>
<rect x="287.98" y="547.66" width="8.2" height="8.2" fill="#00b3e8"/>
<rect x="303.84" y="537.67" width="8.2" height="8.2" fill="#00b3e8"/>
<rect x="319.7" y="534.33" width="8.2" height="8.2" fill="#00b3e8"/>
<rect x="335.55" y="585.15" width="8.2" height="8.2" fill="#00b3e8"/>
<rect x="351.41" y="525.59" width="8.2" height="8.2" fill="#00b3e8"/>
<rect x="414.84" y="635.71" width="8.2" height="8.2" fill="#00b3e8"/>
<rect x="430.7" y="617.63" width="8.2" height="8.2" fill="#00b3e8"/>
<rect x="446.55" y="620.13" width="8.2" height="8.2" fill="#00b3e8"/>
<rect x="462.41" y="635.96" width="8.2" height="8.2" fill="#00b3e8"/>
<rect x="478.27" y="624.3" width="8.2" height="8.2" fill="#00b3e8"/>
<rect x="494.12" y="625.63" width="8.2" height="8.2" fill="#00b3e8"/>
<rect x="509.98" y="608.47" width="8.2" height="8.2" fill="#00b3e8"/>
<rect x="525.84" y="610.97" width="8.2" height="8.2" fill="#00b3e8"/>
<rect x="541.7" y="625.97" width="8.2" height="8.2" fill="#00b3e8"/>
<rect x="557.55" y="625.13" width="8.2" height="8.2" fill="#00b3e8"/>
<rect x="573.41" y="625.47" width="8.2" height="8.2" fill="#00b3e8"/>
<rect x="589.27" y="628.13" width="8.2" height="8.2" fill="#00b3e8"/>
<rect x="605.12" y="740.67" width="8.2" height="8.2" fill="#00b3e8"/>
<rect x="620.98" y="685.94" width="8.2" height="8.2" fill="#00b3e8"/>
<rect x="636.84" y="653.29" width="8.2" height="8.2" fill="#00b3e8"/>
<rect x="652.69" y="599.31" width="8.2" height="8.2" fill="#00b3e8"/>
<rect x="668.55" y="661.12" width="8.2" height="8.2" fill="#00b3e8"/>
<rect x="684.41" y="642.62" width="8.2" height="8.2" fill="#00b3e8"/>
<rect x="700.27" y="642.62" width="8.2" height="8.2" fill="#00b3e8"/>
<rect x="716.12" y="638.46" width="8.2" height="8.2" fill="#00b3e8"/>
<rect x="747.84" y="655.12" width="8.2" height="8.2" fill="#00b3e8"/>
<rect x="763.69" y="561.91" width="8.2" height="8.2" fill="#00b3e8"/>
<path d="M196.94 579.37L202.24 584.67L196.94 589.97L191.64 584.67Z" fill="#ec0a8a"/>
<path d="M212.8 550.79L218.1 556.09L212.8 561.39L207.5 556.09Z" fill="#ec0a8a"/>
<path d="M228.66 543.8L233.96 549.1L228.66 554.4L223.36 549.1Z" fill="#ec0a8a"/>
<path d="M244.51 558.96L249.81 564.26L244.51 569.56L239.21 564.26Z" fill="#ec0a8a"/>
<path d="M260.37 564.79L265.67 570.09L260.37 575.39L255.07 570.09Z" fill="#ec0a8a"/>
<path d="M276.23 552.79L281.53 558.09L276.23 563.39L270.93 558.09Z" fill="#ec0a8a"/>
<path d="M292.08 550.04L297.38 555.34L292.08 560.64L286.78 555.34Z" fill="#ec0a8a"/>
<path d="M307.94 544.55L313.24 549.85L307.94 555.15L302.64 549.85Z" fill="#ec0a8a"/>
<path d="M323.8 543.05L329.1 548.35L323.8 553.65L318.5 548.35Z" fill="#ec0a8a"/>
<path d="M339.65 583.12L344.95 588.41L339.65 593.71L334.35 588.41Z" fill="#ec0a8a"/>
<path d="M355.51 559.37L360.81 564.67L355.51 569.97L350.21 564.67Z" fill="#ec0a8a"/>
<path d="M418.94 627.26L424.24 632.56L418.94 637.86L413.64 632.56Z" fill="#ec0a8a"/>
<path d="M434.8 617.6L440.1 622.9L434.8 628.2L429.5 622.9Z" fill="#ec0a8a"/>
<path d="M450.65 616.44L455.95 621.74L450.65 627.03L445.35 621.74Z" fill="#ec0a8a"/>
<path d="M466.51 623.93L471.81 629.23L466.51 634.53L461.21 629.23Z" fill="#ec0a8a"/>
<path d="M482.37 614.44L487.67 619.74L482.37 625.04L477.07 619.74Z" fill="#ec0a8a"/>
<path d="M498.22 615.6L503.52 620.9L498.22 626.2L492.92 620.9Z" fill="#ec0a8a"/>
<path d="M514.08 605.77L519.38 611.07L514.08 616.37L508.78 611.07Z" fill="#ec0a8a"/>
<path d="M529.94 605.77L535.24 611.07L529.94 616.37L524.64 611.07Z" fill="#ec0a8a"/>
<path d="M545.8 625.6L551.1 630.9L545.8 636.2L540.5 630.9Z" fill="#ec0a8a"/>
<path d="M561.65 632.76L566.95 638.06L561.65 643.36L556.35 638.06Z" fill="#ec0a8a"/>
<path d="M577.51 640.01L582.81 645.31L577.51 650.61L572.21 645.31Z" fill="#ec0a8a"/>
<path d="M593.37 620.6L598.67 625.9L593.37 631.2L588.07 625.9Z" fill="#ec0a8a"/>
<path d="M609.22 734.72L614.52 740.02L609.22 745.32L603.92 740.02Z" fill="#ec0a8a"/>
<path d="M625.08 687.24L630.38 692.54L625.08 697.84L619.78 692.54Z" fill="#ec0a8a"/>
<path d="M640.94 657.92L646.24 663.22L640.94 668.52L635.64 663.22Z" fill="#ec0a8a"/>
<path d="M656.79 595.61L662.09 600.91L656.79 606.21L651.5 600.91Z" fill="#ec0a8a"/>
<path d="M672.65 657.25L677.95 662.55L672.65 667.85L667.35 662.55Z" fill="#ec0a8a"/>
<path d="M688.51 646.51L693.81 651.81L688.51 657.11L683.21 651.81Z" fill="#ec0a8a"/>
<path d="M704.37 634.76L709.67 640.06L704.37 645.36L699.07 640.06Z" fill="#ec0a8a"/>
<path d="M720.22 637.26L725.52 642.56L720.22 647.86L714.92 642.56Z" fill="#ec0a8a"/>
<path d="M751.94 663.5L757.24 668.8L751.94 674.1L746.64 668.8Z" fill="#ec0a8a"/>
<path d="M767.79 551.71L773.09 557.01L767.79 562.31L762.49 557.01Z" fill="#ec0a8a"/>
<circle cx="196.94" cy="580.92" r="4.5" fill="#0a76bf"/>
<circle cx="212.8" cy="536.69" r="4.5" fill="#0a76bf"/>
<circle cx="228.66" cy="528.61" r="4.5" fill="#0a76bf"/>
<circle cx="244.51" cy="553.01" r="4.5" fill="#0a76bf"/>
<circle cx="260.37" cy="553.43" r="4.5" fill="#0a76bf"/>
<circle cx="276.23" cy="543.35" r="4.5" fill="#0a76bf"/>
<circle cx="292.08" cy="536.35" r="4.5" fill="#0a76bf"/>
<circle cx="307.94" cy="520.36" r="4.5" fill="#0a76bf"/>
<circle cx="323.8" cy="523.44" r="4.5" fill="#0a76bf"/>
<circle cx="339.65" cy="576.59" r="4.5" fill="#0a76bf"/>
<circle cx="355.51" cy="534.35" r="4.5" fill="#0a76bf"/>
<circle cx="418.94" cy="627.98" r="4.5" fill="#0a76bf"/>
<circle cx="434.8" cy="608.74" r="4.5" fill="#0a76bf"/>
<circle cx="450.65" cy="615.9" r="4.5" fill="#0a76bf"/>
<circle cx="466.51" cy="612.24" r="4.5" fill="#0a76bf"/>
<circle cx="482.37" cy="629.23" r="4.5" fill="#0a76bf"/>
<circle cx="498.22" cy="616.57" r="4.5" fill="#0a76bf"/>
<circle cx="514.08" cy="598.49" r="4.5" fill="#0a76bf"/>
<circle cx="529.94" cy="597.99" r="4.5" fill="#0a76bf"/>
<circle cx="545.8" cy="617.74" r="4.5" fill="#0a76bf"/>
<circle cx="561.65" cy="617.24" r="4.5" fill="#0a76bf"/>
<circle cx="577.51" cy="614.4" r="4.5" fill="#0a76bf"/>
<circle cx="593.37" cy="617.24" r="4.5" fill="#0a76bf"/>
<circle cx="609.22" cy="732.52" r="4.5" fill="#0a76bf"/>
<circle cx="625.08" cy="686.54" r="4.5" fill="#0a76bf"/>
<circle cx="640.94" cy="641.98" r="4.5" fill="#0a76bf"/>
<circle cx="656.79" cy="581.33" r="4.5" fill="#0a76bf"/>
<circle cx="672.65" cy="649.14" r="4.5" fill="#0a76bf"/>
<circle cx="688.51" cy="639.23" r="4.5" fill="#0a76bf"/>
<circle cx="704.37" cy="631.31" r="4.5" fill="#0a76bf"/>
<circle cx="720.22" cy="637.56" r="4.5" fill="#0a76bf"/>
<circle cx="751.94" cy="655.89" r="4.5" fill="#0a76bf"/>
<circle cx="767.79" cy="566.76" r="4.5" fill="#0a76bf"/>
<path d="M192.34 573.39L201.54 573.39L196.94 581.89Z" fill="#8d2a90"/>
<path d="M208.2 533.4L217.4 533.4L212.8 541.9Z" fill="#8d2a90"/>
<path d="M224.06 532.65L233.26 532.65L228.66 541.15Z" fill="#8d2a90"/>
<path d="M239.91 550.4L249.11 550.4L244.51 558.9Z" fill="#8d2a90"/>
<path d="M255.77 552.39L264.97 552.39L260.37 560.89Z" fill="#8d2a90"/>
<path d="M271.63 542.23L280.83 542.23L276.23 550.73Z" fill="#8d2a90"/>
<path d="M287.48 536.82L296.68 536.82L292.08 545.32Z" fill="#8d2a90"/>
<path d="M303.34 519.41L312.54 519.41L307.94 527.91Z" fill="#8d2a90"/>
<path d="M319.2 527.07L328.4 527.07L323.8 535.57Z" fill="#8d2a90"/>
<path d="M335.05 576.38L344.25 576.38L339.65 584.88Z" fill="#8d2a90"/>
<path d="M350.91 547.73L360.11 547.73L355.51 556.23Z" fill="#8d2a90"/>
<path d="M414.34 635.53L423.54 635.53L418.94 644.03Z" fill="#8d2a90"/>
<path d="M430.2 608.21L439.4 608.21L434.8 616.71Z" fill="#8d2a90"/>
<path d="M446.05 616.37L455.25 616.37L450.65 624.87Z" fill="#8d2a90"/>
<path d="M461.91 620.78L471.11 620.78L466.51 629.28Z" fill="#8d2a90"/>
<path d="M477.77 618.45L486.97 618.45L482.37 626.95Z" fill="#8d2a90"/>
<path d="M493.62 616.37L502.82 616.37L498.22 624.87Z" fill="#8d2a90"/>
<path d="M509.48 598.88L518.68 598.88L514.08 607.38Z" fill="#8d2a90"/>
<path d="M525.34 600.54L534.54 600.54L529.94 609.04Z" fill="#8d2a90"/>
<path d="M541.2 616.7L550.4 616.7L545.8 625.2Z" fill="#8d2a90"/>
<path d="M557.05 615.62L566.25 615.62L561.65 624.12Z" fill="#8d2a90"/>
<path d="M572.91 605.71L582.11 605.71L577.51 614.21Z" fill="#8d2a90"/>
<path d="M588.77 614.7L597.97 614.7L593.37 623.2Z" fill="#8d2a90"/>
<path d="M604.62 729.32L613.82 729.32L609.22 737.82Z" fill="#8d2a90"/>
<path d="M620.48 683.84L629.68 683.84L625.08 692.34Z" fill="#8d2a90"/>
<path d="M636.34 693.09L645.54 693.09L640.94 701.59Z" fill="#8d2a90"/>
<path d="M652.19 568.64L661.39 568.64L656.79 577.14Z" fill="#8d2a90"/>
<path d="M668.05 648.86L677.25 648.86L672.65 657.36Z" fill="#8d2a90"/>
<path d="M683.91 637.19L693.11 637.19L688.51 645.69Z" fill="#8d2a90"/>
<path d="M699.77 629.7L708.97 629.7L704.37 638.2Z" fill="#8d2a90"/>
<path d="M715.62 630.03L724.82 630.03L720.22 638.53Z" fill="#8d2a90"/>
<path d="M747.34 650.02L756.54 650.02L751.94 658.52Z" fill="#8d2a90"/>
<path d="M763.19 564.31L772.39 564.31L767.79 572.81Z" fill="#8d2a90"/>
<rect x="192.84" y="579.73" width="8.2" height="8.2" fill="#fcaf17"/>
<rect x="208.7" y="545.75" width="8.2" height="8.2" fill="#fcaf17"/>
<rect x="224.56" y="538" width="8.2" height="8.2" fill="#fcaf17"/>
<rect x="240.41" y="558.49" width="8.2" height="8.2" fill="#fcaf17"/>
<rect x="256.27" y="561.32" width="8.2" height="8.2" fill="#fcaf17"/>
<rect x="272.13" y="548.08" width="8.2" height="8.2" fill="#fcaf17"/>
<rect x="287.98" y="546.83" width="8.2" height="8.2" fill="#fcaf17"/>
<rect x="303.84" y="532.59" width="8.2" height="8.2" fill="#fcaf17"/>
<rect x="319.7" y="535.67" width="8.2" height="8.2" fill="#fcaf17"/>
<rect x="335.55" y="584.73" width="8.2" height="8.2" fill="#fcaf17"/>
<rect x="351.41" y="555.41" width="8.2" height="8.2" fill="#fcaf17"/>
<rect x="414.84" y="632.05" width="8.2" height="8.2" fill="#fcaf17"/>
<rect x="430.7" y="613.47" width="8.2" height="8.2" fill="#fcaf17"/>
<rect x="446.55" y="606.97" width="8.2" height="8.2" fill="#fcaf17"/>
<rect x="462.41" y="630.63" width="8.2" height="8.2" fill="#fcaf17"/>
<rect x="478.27" y="648.71" width="8.2" height="8.2" fill="#fcaf17"/>
<rect x="494.12" y="620.13" width="8.2" height="8.2" fill="#fcaf17"/>
<rect x="509.98" y="599.31" width="8.2" height="8.2" fill="#fcaf17"/>
<rect x="525.84" y="597.64" width="8.2" height="8.2" fill="#fcaf17"/>
<rect x="541.7" y="620.22" width="8.2" height="8.2" fill="#fcaf17"/>
<rect x="557.55" y="623.38" width="8.2" height="8.2" fill="#fcaf17"/>
<rect x="573.41" y="628.88" width="8.2" height="8.2" fill="#fcaf17"/>
<rect x="589.27" y="616.3" width="8.2" height="8.2" fill="#fcaf17"/>
<rect x="605.12" y="735.92" width="8.2" height="8.2" fill="#fcaf17"/>
<rect x="620.98" y="688.44" width="8.2" height="8.2" fill="#fcaf17"/>
<rect x="636.84" y="648.54" width="8.2" height="8.2" fill="#fcaf17"/>
<rect x="652.69" y="593.39" width="8.2" height="8.2" fill="#fcaf17"/>
<rect x="668.55" y="653.2" width="8.2" height="8.2" fill="#fcaf17"/>
<rect x="684.41" y="644.54" width="8.2" height="8.2" fill="#fcaf17"/>
<rect x="700.27" y="639.88" width="8.2" height="8.2" fill="#fcaf17"/>
<rect x="716.12" y="643.79" width="8.2" height="8.2" fill="#fcaf17"/>
<rect x="747.84" y="659.28" width="8.2" height="8.2" fill="#fcaf17"/>
<rect x="763.69" y="570.15" width="8.2" height="8.2" fill="#fcaf17"/>
<path d="M196.94 586.61L202.24 591.91L196.94 597.21L191.64 591.91Z" fill="#ec1c24"/>
<path d="M212.8 546.88L218.1 552.18L212.8 557.48L207.5 552.18Z" fill="#ec1c24"/>
<path d="M228.66 539.88L233.96 545.18L228.66 550.48L223.36 545.18Z" fill="#ec1c24"/>
<path d="M244.51 558.29L249.81 563.59L244.51 568.89L239.21 563.59Z" fill="#ec1c24"/>
<path d="M260.37 553.96L265.67 559.26L260.37 564.56L255.07 559.26Z" fill="#ec1c24"/>
<path d="M276.23 543.46L281.53 548.76L276.23 554.06L270.93 548.76Z" fill="#ec1c24"/>
<path d="M292.08 539.13L297.38 544.43L292.08 549.73L286.78 544.43Z" fill="#ec1c24"/>
<path d="M307.94 534.97L313.24 540.27L307.94 545.57L302.64 540.27Z" fill="#ec1c24"/>
<path d="M323.8 538.05L329.1 543.35L323.8 548.65L318.5 543.35Z" fill="#ec1c24"/>
<path d="M339.65 579.2L344.95 584.5L339.65 589.8L334.35 584.5Z" fill="#ec1c24"/>
<path d="M355.51 538.05L360.81 543.35L355.51 548.65L350.21 543.35Z" fill="#ec1c24"/>
<path d="M418.94 627.43L424.24 632.73L418.94 638.03L413.64 632.73Z" fill="#ec1c24"/>
<path d="M434.8 615.27L440.1 620.57L434.8 625.87L429.5 620.57Z" fill="#ec1c24"/>
<path d="M450.65 617.27L455.95 622.57L450.65 627.87L445.35 622.57Z" fill="#ec1c24"/>
<path d="M466.51 633.01L471.81 638.31L466.51 643.61L461.21 638.31Z" fill="#ec1c24"/>
<path d="M482.37 620.77L487.67 626.07L482.37 631.37L477.07 626.07Z" fill="#ec1c24"/>
<path d="M498.22 616.02L503.52 621.32L498.22 626.62L492.92 621.32Z" fill="#ec1c24"/>
<path d="M514.08 599.53L519.38 604.83L514.08 610.13L508.78 604.83Z" fill="#ec1c24"/>
<path d="M529.94 600.27L535.24 605.57L529.94 610.87L524.64 605.57Z" fill="#ec1c24"/>
<path d="M545.8 626.1L551.1 631.4L545.8 636.7L540.5 631.4Z" fill="#ec1c24"/>
<path d="M561.65 683.57L566.95 688.87L561.65 694.17L556.35 688.87Z" fill="#ec1c24"/>
<path d="M577.51 633.18L582.81 638.48L577.51 643.78L572.21 638.48Z" fill="#ec1c24"/>
<path d="M593.37 620.93L598.67 626.23L593.37 631.53L588.07 626.23Z" fill="#ec1c24"/>
<path d="M609.22 734.8L614.52 740.1L609.22 745.4L603.92 740.1Z" fill="#ec1c24"/>
<path d="M625.08 686.74L630.38 692.04L625.08 697.34L619.78 692.04Z" fill="#ec1c24"/>
<path d="M640.94 642.92L646.24 648.22L640.94 653.52L635.64 648.22Z" fill="#ec1c24"/>
<path d="M656.79 594.78L662.09 600.08L656.79 605.38L651.5 600.08Z" fill="#ec1c24"/>
<path d="M672.65 656.25L677.95 661.55L672.65 666.85L667.35 661.55Z" fill="#ec1c24"/>
<path d="M688.51 639.93L693.81 645.23L688.51 650.53L683.21 645.23Z" fill="#ec1c24"/>
<path d="M704.37 632.35L709.67 637.65L704.37 642.95L699.07 637.65Z" fill="#ec1c24"/>
<path d="M720.22 635.51L725.52 640.81L720.22 646.11L714.92 640.81Z" fill="#ec1c24"/>
<path d="M751.94 656.75L757.24 662.05L751.94 667.35L746.64 662.05Z" fill="#ec1c24"/>
<path d="M767.79 567.79L773.09 573.09L767.79 578.39L762.49 573.09Z" fill="#ec1c24"/>
</g>
<g>
<path d="M793.6 465.2H844.9" stroke="#0ba54f" stroke-width="4" stroke-linecap="round" fill="none"/>
<circle cx="819.3" cy="464.1" r="6.4" fill="#0ba54f"/>
<text class="lg" x="852.48" y="473.3" textLength="24.7" lengthAdjust="spacingAndGlyphs">C1</text>
<path d="M793.6 488.58H844.9" stroke="#bfb18f" stroke-width="4" stroke-linecap="round" fill="none"/>
<path d="M813 483.18L825.6 483.18L819.3 494.58Z" fill="#bfb18f"/>
<text class="lg" x="852.36" y="496.68" textLength="27.83" lengthAdjust="spacingAndGlyphs">C6</text>
<path d="M793.6 511.96H844.9" stroke="#00b3e8" stroke-width="4" stroke-linecap="round" fill="none"/>
<rect x="812.9" y="504.56" width="12.8" height="12.8" fill="#00b3e8"/>
<text class="lg" x="852.36" y="520.06" textLength="27.89" lengthAdjust="spacingAndGlyphs">C9</text>
<path d="M793.6 535.34H844.9" stroke="#ec0a8a" stroke-width="4" stroke-linecap="round" fill="none"/>
<path d="M819.3 528.04L825.8 535.04L819.3 542.04L812.8 535.04Z" fill="#ec0a8a"/>
<text class="lg" x="852.69" y="543.44" textLength="35.86" lengthAdjust="spacingAndGlyphs">E51</text>
<path d="M793.6 558.72H844.9" stroke="#0a76bf" stroke-width="4" stroke-linecap="round" fill="none"/>
<circle cx="819.3" cy="557.62" r="6.4" fill="#0a76bf"/>
<text class="lg" x="852.49" y="566.82" textLength="40.22" lengthAdjust="spacingAndGlyphs">K39</text>
<path d="M793.6 582.1H844.9" stroke="#8d2a90" stroke-width="4" stroke-linecap="round" fill="none"/>
<path d="M813 576.7L825.6 576.7L819.3 588.1Z" fill="#8d2a90"/>
<text class="lg" x="852.46" y="590.2" textLength="40.67" lengthAdjust="spacingAndGlyphs">K42</text>
<path d="M793.6 605.48H844.9" stroke="#fcaf17" stroke-width="4" stroke-linecap="round" fill="none"/>
<rect x="812.9" y="598.08" width="12.8" height="12.8" fill="#fcaf17"/>
<text class="lg" x="852.56" y="613.58" textLength="38.7" lengthAdjust="spacingAndGlyphs">K45</text>
<path d="M793.6 628.86H844.9" stroke="#ec1c24" stroke-width="4" stroke-linecap="round" fill="none"/>
<path d="M819.3 621.56L825.8 628.56L819.3 635.56L812.8 628.56Z" fill="#ec1c24"/>
<text class="lg" x="852.54" y="636.96" textLength="35.85" lengthAdjust="spacingAndGlyphs">S15</text>
</g>
</g>
<g>
<g stroke="#000" stroke-width="1.6" fill="none">
<path d="M101.8 887.6V1222.8"/>
<path d="M101 1222H768.59"/>
<path d="M101.8 1217.6H94.2M101.8 1135.3H94.2M101.8 1053H94.2M101.8 970.7H94.2M101.8 888.4H94.2M101.8 1176.45H96.9M101.8 1094.15H96.9M101.8 1011.85H96.9M101.8 929.55H96.9M101.8 1222V1226.6M117.66 1222V1226.6M133.51 1222V1229.4M149.37 1222V1226.6M165.23 1222V1226.6M181.08 1222V1226.6M196.94 1222V1229.4M212.8 1222V1226.6M228.66 1222V1226.6M244.51 1222V1226.6M260.37 1222V1229.4M276.23 1222V1226.6M292.08 1222V1226.6M307.94 1222V1226.6M323.8 1222V1229.4M339.65 1222V1226.6M355.51 1222V1226.6M371.37 1222V1226.6M387.23 1222V1229.4M403.08 1222V1226.6M418.94 1222V1226.6M434.8 1222V1226.6M450.65 1222V1229.4M466.51 1222V1226.6M482.37 1222V1226.6M498.22 1222V1226.6M514.08 1222V1229.4M529.94 1222V1226.6M545.8 1222V1226.6M561.65 1222V1226.6M577.51 1222V1229.4M593.37 1222V1226.6M609.22 1222V1226.6M625.08 1222V1226.6M640.94 1222V1229.4M656.79 1222V1226.6M672.65 1222V1226.6M688.51 1222V1226.6M704.37 1222V1229.4M720.22 1222V1226.6M736.08 1222V1226.6M751.94 1222V1226.6M767.79 1222V1229.4"/>
</g>
<g>
<text class="tk" x="60.58" y="897.04" textLength="25.67" lengthAdjust="spacingAndGlyphs">32</text>
<text class="tk" x="58.5" y="978.64" textLength="28.21" lengthAdjust="spacingAndGlyphs">30</text>
<text class="tk" x="60.29" y="1060.94" textLength="25.8" lengthAdjust="spacingAndGlyphs">28</text>
<text class="tk" x="60.29" y="1143.24" textLength="25.8" lengthAdjust="spacingAndGlyphs">26</text>
<text class="tk" x="60.31" y="1225.54" textLength="25.42" lengthAdjust="spacingAndGlyphs">24</text>
</g>
<g>
<text class="xk" x="108.49" y="1256.2" textLength="49.53" lengthAdjust="spacingAndGlyphs">1982</text>
<text class="xk" x="172.36" y="1256.2" textLength="48.51" lengthAdjust="spacingAndGlyphs">1986</text>
<text class="xk" x="234.66" y="1256.2" textLength="50.61" lengthAdjust="spacingAndGlyphs">1990</text>
<text class="xk" x="299.44" y="1256.2" textLength="47.75" lengthAdjust="spacingAndGlyphs">1994</text>
<text class="xk" x="362.64" y="1256.2" textLength="48.51" lengthAdjust="spacingAndGlyphs">1998</text>
<text class="xk" x="422.96" y="1256.2" textLength="55.45" lengthAdjust="spacingAndGlyphs">2002</text>
<text class="xk" x="486.55" y="1256.2" textLength="54.94" lengthAdjust="spacingAndGlyphs">2006</text>
<text class="xk" x="551.97" y="1256.2" textLength="50.85" lengthAdjust="spacingAndGlyphs">2010</text>
<text class="xk" x="616.03" y="1256.2" textLength="49.37" lengthAdjust="spacingAndGlyphs">2014</text>
<text class="xk" x="679.66" y="1256.2" textLength="49.3" lengthAdjust="spacingAndGlyphs">2018</text>
<text class="xk" x="741.51" y="1256.2" textLength="52.62" lengthAdjust="spacingAndGlyphs">2022</text>
</g>
<text class="ti" x="127.32" y="882" textLength="53.12" lengthAdjust="spacingAndGlyphs">DIC</text>
<text class="ti" transform="translate(32.3 1213) rotate(-90)" y="0"><tspan x="-1.22" textLength="206.26" lengthAdjust="spacingAndGlyphs">Concentration</tspan> <tspan x="212.46" textLength="106.27" lengthAdjust="spacingAndGlyphs">(mg/L)</tspan></text>
<g fill="none" stroke-width="3.3" stroke-linejoin="round" stroke-linecap="round">
<path d="M228.66 1070.69L244.51 1064.93L260.37 1093.74L276.23 1104.44L292.08 1060.82L307.94 1049.71L323.8 1046L339.65 1130.36L355.51 1037.77L371.37 1118.43L387.23 1114.72L403.08 1147.64L418.94 922.14L434.8 1143.53L450.65 1132.83L466.51 1130.36L482.37 1076.04L498.22 1141.88L514.08 1159.99L529.94 1216.37L545.8 1122.95L561.65 1020.08L577.51 956.71L593.37 1112.26L609.22 1139.41L625.08 1105.67L640.94 1202.37L656.79 1114.72L672.65 1160.4L688.51 1099.91L704.37 1199.08L720.22 1137.77M751.94 1111.02L767.79 1154.23" stroke="#0ba54f"/>
<path d="M212.8 1077.69L228.66 1051.35L244.51 1046.83L260.37 1053L276.23 1066.17L292.08 1040.65L307.94 1022.14L323.8 1032.42L339.65 1083.86L355.51 1094.15L371.37 1085.92L387.23 1128.3L403.08 1127.89L418.94 1094.56L434.8 1114.72L450.65 1114.72L466.51 1118.84L482.37 1114.72L498.22 1127.07L514.08 1134.07L529.94 1130.77L545.8 1125.01L561.65 1054.65L577.51 971.93L593.37 1138.18L609.22 1159.99L625.08 1116.78L640.94 1211.43L656.79 1127.07L672.65 1143.53L688.51 1133.65L704.37 1175.22L720.22 1114.72M751.94 1118.84L767.79 1106.49" stroke="#bfb18f"/>
<path d="M212.8 1086.33L228.66 1041.48L244.51 1049.71L260.37 1048.88L276.23 1056.7L292.08 1037.36L307.94 1021.73L323.8 1025.43L339.65 1077.69L355.51 1092.09L371.37 1081.8L387.23 1118.84L403.08 1118.43L418.94 1110.61L434.8 1114.72L450.65 1117.19L466.51 1122.95L482.37 1112.67L498.22 1118.84L514.08 1121.72L529.94 1113.9L545.8 1117.61L561.65 1063.29L577.51 962.88L593.37 1172.33L609.22 1151.76L625.08 1122.95L640.94 1193.32L656.79 1118.02L672.65 1150.11L688.51 1169.45L704.37 1173.57L720.22 1114.72M751.94 1118.84L767.79 1104.44" stroke="#00b3e8"/>
<path d="M212.8 1083.45L228.66 1046.83L244.51 1048.88L260.37 1055.47L276.23 1063.29L292.08 1044.36L307.94 1038.6L323.8 1043.54L339.65 1081.39L355.51 1090.03L371.37 1076.04L387.23 1111.84L403.08 1113.49L418.94 1115.14L434.8 1110.61L450.65 1127.07L466.51 1129.13L482.37 1126.25L498.22 1116.78L514.08 1089.62L529.94 1098.26L545.8 1125.01L561.65 1069.46L577.51 937.37L593.37 1168.22L609.22 1143.53L625.08 1122.95L640.94 1208.96L656.79 1115.96L672.65 1143.53L688.51 1143.53L704.37 1160.4L720.22 1107.73M751.94 1125.84L767.79 1106.49" stroke="#ec0a8a"/>
<path d="M212.8 1060.82L228.66 1024.61L244.51 1028.72L260.37 1024.61L276.23 1038.19L292.08 1010.2L307.94 1001.56L323.8 1003.21L339.65 1062.05L355.51 1075.63L371.37 1049.71L387.23 1085.51L403.08 1097.85L418.94 1100.32L434.8 1098.68L450.65 1110.61L466.51 1114.72L482.37 1104.44L498.22 1102.38L514.08 1110.61L529.94 1102.38L545.8 1101.15L561.65 1061.23L577.51 958.35L593.37 1155.05L609.22 1139.83L625.08 1115.96L640.94 1164.93L656.79 1096.21L672.65 1127.07L688.51 1142.3L704.37 1142.71L720.22 1078.92M751.94 1100.73L767.79 1079.75" stroke="#0a76bf"/>
<path d="M212.8 1066.17L228.66 1031.6L244.51 1031.19L260.37 1036.54L276.23 1044.77L292.08 1016.38L307.94 998.68L323.8 1013.08L339.65 1069.46L355.51 1084.69L371.37 1056.7L387.23 1098.68L403.08 1100.32L418.94 1104.44L434.8 1109.79L450.65 1110.61L466.51 1113.9L482.37 1109.79L498.22 1099.91L514.08 1116.78L529.94 1102.38L545.8 1103.2L561.65 1059.17L577.51 958.35L593.37 1164.93L609.22 1147.64L625.08 1118.84L640.94 1170.28L656.79 1101.97L672.65 1128.3L688.51 1141.47L704.37 1148.88L720.22 1088.39M751.94 1118.84L767.79 1091.68" stroke="#8d2a90"/>
<path d="M212.8 1079.34L228.66 1046L244.51 1043.54L260.37 1048.88L276.23 1051.77L292.08 1025.02L307.94 1027.49L323.8 1031.19L339.65 1068.23L355.51 1099.5L371.37 1082.63L387.23 1110.61L403.08 1118.02L418.94 1104.03L434.8 1115.14L450.65 1108.96L466.51 1121.31L482.37 1139L498.22 1107.73L514.08 1115.55L529.94 1101.15L545.8 1108.96L561.65 1067.4L577.51 948.07L593.37 1178.51L609.22 1155.88L625.08 1106.91L640.94 1177.68L656.79 1114.72L672.65 1146L688.51 1152.58L704.37 1153.82L720.22 1094.56M751.94 1114.72L767.79 1113.9" stroke="#fcaf17"/>
<path d="M212.8 1068.64L228.66 1043.95L244.51 1048.88L260.37 1043.54L276.23 1043.54L292.08 1027.49L307.94 1024.61L323.8 1033.66L339.65 1073.57L355.51 1088.8L371.37 1071.11L387.23 1107.32L403.08 1114.31L418.94 1113.08L434.8 1120.49L450.65 1127.89L466.51 1129.13L482.37 1123.78L498.22 1117.19L514.08 1096.21L529.94 1094.97L545.8 1125.42L561.65 1070.28L577.51 951.36L593.37 1174.39L609.22 1150.94L625.08 1127.48L640.94 1185.09L656.79 1111.02L672.65 1142.3L688.51 1142.71L704.37 1154.64L720.22 1123.37M751.94 1120.49L767.79 1104.85" stroke="#ec1c24"/>
</g>
<g>
<circle cx="149.37" cy="978.93" r="4.5" fill="#0ba54f"/>
<circle cx="228.66" cy="1070.69" r="4.5" fill="#0ba54f"/>
<circle cx="244.51" cy="1064.93" r="4.5" fill="#0ba54f"/>
<circle cx="260.37" cy="1093.74" r="4.5" fill="#0ba54f"/>
<circle cx="276.23" cy="1104.44" r="4.5" fill="#0ba54f"/>
<circle cx="292.08" cy="1060.82" r="4.5" fill="#0ba54f"/>
<circle cx="307.94" cy="1049.71" r="4.5" fill="#0ba54f"/>
<circle cx="323.8" cy="1046" r="4.5" fill="#0ba54f"/>
<circle cx="339.65" cy="1130.36" r="4.5" fill="#0ba54f"/>
<circle cx="355.51" cy="1037.77" r="4.5" fill="#0ba54f"/>
<circle cx="371.37" cy="1118.43" r="4.5" fill="#0ba54f"/>
<circle cx="387.23" cy="1114.72" r="4.5" fill="#0ba54f"/>
<circle cx="403.08" cy="1147.64" r="4.5" fill="#0ba54f"/>
<circle cx="418.94" cy="922.14" r="4.5" fill="#0ba54f"/>
<circle cx="434.8" cy="1143.53" r="4.5" fill="#0ba54f"/>
<circle cx="450.65" cy="1132.83" r="4.5" fill="#0ba54f"/>
<circle cx="466.51" cy="1130.36" r="4.5" fill="#0ba54f"/>
<circle cx="482.37" cy="1076.04" r="4.5" fill="#0ba54f"/>
<circle cx="498.22" cy="1141.88" r="4.5" fill="#0ba54f"/>
<circle cx="514.08" cy="1159.99" r="4.5" fill="#0ba54f"/>
<circle cx="529.94" cy="1216.37" r="4.5" fill="#0ba54f"/>
<circle cx="545.8" cy="1122.95" r="4.5" fill="#0ba54f"/>
<circle cx="561.65" cy="1020.08" r="4.5" fill="#0ba54f"/>
<circle cx="577.51" cy="956.71" r="4.5" fill="#0ba54f"/>
<circle cx="593.37" cy="1112.26" r="4.5" fill="#0ba54f"/>
<circle cx="609.22" cy="1139.41" r="4.5" fill="#0ba54f"/>
<circle cx="625.08" cy="1105.67" r="4.5" fill="#0ba54f"/>
<circle cx="640.94" cy="1202.37" r="4.5" fill="#0ba54f"/>
<circle cx="656.79" cy="1114.72" r="4.5" fill="#0ba54f"/>
<circle cx="672.65" cy="1160.4" r="4.5" fill="#0ba54f"/>
<circle cx="688.51" cy="1099.91" r="4.5" fill="#0ba54f"/>
<circle cx="704.37" cy="1199.08" r="4.5" fill="#0ba54f"/>
<circle cx="720.22" cy="1137.77" r="4.5" fill="#0ba54f"/>
<circle cx="751.94" cy="1111.02" r="4.5" fill="#0ba54f"/>
<circle cx="767.79" cy="1154.23" r="4.5" fill="#0ba54f"/>
<path d="M144.77 964.94L153.97 964.94L149.37 973.44Z" fill="#bfb18f"/>
<path d="M208.2 1073.99L217.4 1073.99L212.8 1082.49Z" fill="#bfb18f"/>
<path d="M224.06 1047.65L233.26 1047.65L228.66 1056.15Z" fill="#bfb18f"/>
<path d="M239.91 1043.13L249.11 1043.13L244.51 1051.63Z" fill="#bfb18f"/>
<path d="M255.77 1049.3L264.97 1049.3L260.37 1057.8Z" fill="#bfb18f"/>
<path d="M271.63 1062.47L280.83 1062.47L276.23 1070.97Z" fill="#bfb18f"/>
<path d="M287.48 1036.95L296.68 1036.95L292.08 1045.45Z" fill="#bfb18f"/>
<path d="M303.34 1018.44L312.54 1018.44L307.94 1026.94Z" fill="#bfb18f"/>
<path d="M319.2 1028.72L328.4 1028.72L323.8 1037.22Z" fill="#bfb18f"/>
<path d="M335.05 1080.16L344.25 1080.16L339.65 1088.66Z" fill="#bfb18f"/>
<path d="M350.91 1090.45L360.11 1090.45L355.51 1098.95Z" fill="#bfb18f"/>
<path d="M366.77 1082.22L375.97 1082.22L371.37 1090.72Z" fill="#bfb18f"/>
<path d="M382.63 1124.6L391.83 1124.6L387.23 1133.1Z" fill="#bfb18f"/>
<path d="M398.48 1124.19L407.68 1124.19L403.08 1132.69Z" fill="#bfb18f"/>
<path d="M414.34 1090.86L423.54 1090.86L418.94 1099.36Z" fill="#bfb18f"/>
<path d="M430.2 1111.02L439.4 1111.02L434.8 1119.52Z" fill="#bfb18f"/>
<path d="M446.05 1111.02L455.25 1111.02L450.65 1119.52Z" fill="#bfb18f"/>
<path d="M461.91 1115.14L471.11 1115.14L466.51 1123.64Z" fill="#bfb18f"/>
<path d="M477.77 1111.02L486.97 1111.02L482.37 1119.52Z" fill="#bfb18f"/>
<path d="M493.62 1123.37L502.82 1123.37L498.22 1131.87Z" fill="#bfb18f"/>
<path d="M509.48 1130.37L518.68 1130.37L514.08 1138.87Z" fill="#bfb18f"/>
<path d="M525.34 1127.07L534.54 1127.07L529.94 1135.57Z" fill="#bfb18f"/>
<path d="M541.2 1121.31L550.4 1121.31L545.8 1129.81Z" fill="#bfb18f"/>
<path d="M557.05 1050.95L566.25 1050.95L561.65 1059.45Z" fill="#bfb18f"/>
<path d="M572.91 968.23L582.11 968.23L577.51 976.73Z" fill="#bfb18f"/>
<path d="M588.77 1134.48L597.97 1134.48L593.37 1142.98Z" fill="#bfb18f"/>
<path d="M604.62 1156.29L613.82 1156.29L609.22 1164.79Z" fill="#bfb18f"/>
<path d="M620.48 1113.08L629.68 1113.08L625.08 1121.58Z" fill="#bfb18f"/>
<path d="M636.34 1207.73L645.54 1207.73L640.94 1216.23Z" fill="#bfb18f"/>
<path d="M652.19 1123.37L661.39 1123.37L656.79 1131.87Z" fill="#bfb18f"/>
<path d="M668.05 1139.83L677.25 1139.83L672.65 1148.33Z" fill="#bfb18f"/>
<path d="M683.91 1129.95L693.11 1129.95L688.51 1138.45Z" fill="#bfb18f"/>
<path d="M699.77 1171.52L708.97 1171.52L704.37 1180.02Z" fill="#bfb18f"/>
<path d="M715.62 1111.02L724.82 1111.02L720.22 1119.52Z" fill="#bfb18f"/>
<path d="M747.34 1115.14L756.54 1115.14L751.94 1123.64Z" fill="#bfb18f"/>
<path d="M763.19 1102.79L772.39 1102.79L767.79 1111.29Z" fill="#bfb18f"/>
<rect x="208.7" y="1082.23" width="8.2" height="8.2" fill="#00b3e8"/>
<rect x="224.56" y="1037.38" width="8.2" height="8.2" fill="#00b3e8"/>
<rect x="240.41" y="1045.61" width="8.2" height="8.2" fill="#00b3e8"/>
<rect x="256.27" y="1044.78" width="8.2" height="8.2" fill="#00b3e8"/>
<rect x="272.13" y="1052.6" width="8.2" height="8.2" fill="#00b3e8"/>
<rect x="287.98" y="1033.26" width="8.2" height="8.2" fill="#00b3e8"/>
<rect x="303.84" y="1017.63" width="8.2" height="8.2" fill="#00b3e8"/>
<rect x="319.7" y="1021.33" width="8.2" height="8.2" fill="#00b3e8"/>
<rect x="335.55" y="1073.59" width="8.2" height="8.2" fill="#00b3e8"/>
<rect x="351.41" y="1087.99" width="8.2" height="8.2" fill="#00b3e8"/>
<rect x="367.27" y="1077.7" width="8.2" height="8.2" fill="#00b3e8"/>
<rect x="383.13" y="1114.74" width="8.2" height="8.2" fill="#00b3e8"/>
<rect x="398.98" y="1114.33" width="8.2" height="8.2" fill="#00b3e8"/>
<rect x="414.84" y="1106.51" width="8.2" height="8.2" fill="#00b3e8"/>
<rect x="430.7" y="1110.62" width="8.2" height="8.2" fill="#00b3e8"/>
<rect x="446.55" y="1113.09" width="8.2" height="8.2" fill="#00b3e8"/>
<rect x="462.41" y="1118.86" width="8.2" height="8.2" fill="#00b3e8"/>
<rect x="478.27" y="1108.57" width="8.2" height="8.2" fill="#00b3e8"/>
<rect x="494.12" y="1114.74" width="8.2" height="8.2" fill="#00b3e8"/>
<rect x="509.98" y="1117.62" width="8.2" height="8.2" fill="#00b3e8"/>
<rect x="525.84" y="1109.8" width="8.2" height="8.2" fill="#00b3e8"/>
<rect x="541.7" y="1113.51" width="8.2" height="8.2" fill="#00b3e8"/>
<rect x="557.55" y="1059.19" width="8.2" height="8.2" fill="#00b3e8"/>
<rect x="573.41" y="958.78" width="8.2" height="8.2" fill="#00b3e8"/>
<rect x="589.27" y="1168.23" width="8.2" height="8.2" fill="#00b3e8"/>
<rect x="605.12" y="1147.66" width="8.2" height="8.2" fill="#00b3e8"/>
<rect x="620.98" y="1118.86" width="8.2" height="8.2" fill="#00b3e8"/>
<rect x="636.84" y="1189.22" width="8.2" height="8.2" fill="#00b3e8"/>
<rect x="652.69" y="1113.92" width="8.2" height="8.2" fill="#00b3e8"/>
<rect x="668.55" y="1146.01" width="8.2" height="8.2" fill="#00b3e8"/>
<rect x="684.41" y="1165.35" width="8.2" height="8.2" fill="#00b3e8"/>
<rect x="700.27" y="1169.47" width="8.2" height="8.2" fill="#00b3e8"/>
<rect x="716.12" y="1110.62" width="8.2" height="8.2" fill="#00b3e8"/>
<rect x="747.84" y="1114.74" width="8.2" height="8.2" fill="#00b3e8"/>
<rect x="763.69" y="1100.34" width="8.2" height="8.2" fill="#00b3e8"/>
<path d="M149.37 985.15L154.67 990.45L149.37 995.75L144.07 990.45Z" fill="#ec0a8a"/>
<path d="M212.8 1078.15L218.1 1083.45L212.8 1088.75L207.5 1083.45Z" fill="#ec0a8a"/>
<path d="M228.66 1041.53L233.96 1046.83L228.66 1052.13L223.36 1046.83Z" fill="#ec0a8a"/>
<path d="M244.51 1043.58L249.81 1048.88L244.51 1054.18L239.21 1048.88Z" fill="#ec0a8a"/>
<path d="M260.37 1050.17L265.67 1055.47L260.37 1060.77L255.07 1055.47Z" fill="#ec0a8a"/>
<path d="M276.23 1057.99L281.53 1063.29L276.23 1068.59L270.93 1063.29Z" fill="#ec0a8a"/>
<path d="M292.08 1039.06L297.38 1044.36L292.08 1049.66L286.78 1044.36Z" fill="#ec0a8a"/>
<path d="M307.94 1033.3L313.24 1038.6L307.94 1043.9L302.64 1038.6Z" fill="#ec0a8a"/>
<path d="M323.8 1038.24L329.1 1043.54L323.8 1048.84L318.5 1043.54Z" fill="#ec0a8a"/>
<path d="M339.65 1076.09L344.95 1081.39L339.65 1086.69L334.35 1081.39Z" fill="#ec0a8a"/>
<path d="M355.51 1084.73L360.81 1090.03L355.51 1095.33L350.21 1090.03Z" fill="#ec0a8a"/>
<path d="M371.37 1070.74L376.67 1076.04L371.37 1081.34L366.07 1076.04Z" fill="#ec0a8a"/>
<path d="M387.23 1106.54L392.53 1111.84L387.23 1117.14L381.93 1111.84Z" fill="#ec0a8a"/>
<path d="M403.08 1108.19L408.38 1113.49L403.08 1118.79L397.78 1113.49Z" fill="#ec0a8a"/>
<path d="M418.94 1109.84L424.24 1115.14L418.94 1120.44L413.64 1115.14Z" fill="#ec0a8a"/>
<path d="M434.8 1105.31L440.1 1110.61L434.8 1115.91L429.5 1110.61Z" fill="#ec0a8a"/>
<path d="M450.65 1121.77L455.95 1127.07L450.65 1132.37L445.35 1127.07Z" fill="#ec0a8a"/>
<path d="M466.51 1123.83L471.81 1129.13L466.51 1134.43L461.21 1129.13Z" fill="#ec0a8a"/>
<path d="M482.37 1120.95L487.67 1126.25L482.37 1131.55L477.07 1126.25Z" fill="#ec0a8a"/>
<path d="M498.22 1111.48L503.52 1116.78L498.22 1122.08L492.92 1116.78Z" fill="#ec0a8a"/>
<path d="M514.08 1084.32L519.38 1089.62L514.08 1094.92L508.78 1089.62Z" fill="#ec0a8a"/>
<path d="M529.94 1092.96L535.24 1098.26L529.94 1103.56L524.64 1098.26Z" fill="#ec0a8a"/>
<path d="M545.8 1119.71L551.1 1125.01L545.8 1130.31L540.5 1125.01Z" fill="#ec0a8a"/>
<path d="M561.65 1064.16L566.95 1069.46L561.65 1074.76L556.35 1069.46Z" fill="#ec0a8a"/>
<path d="M577.51 932.07L582.81 937.37L577.51 942.67L572.21 937.37Z" fill="#ec0a8a"/>
<path d="M593.37 1162.92L598.67 1168.22L593.37 1173.52L588.07 1168.22Z" fill="#ec0a8a"/>
<path d="M609.22 1138.23L614.52 1143.53L609.22 1148.83L603.92 1143.53Z" fill="#ec0a8a"/>
<path d="M625.08 1117.65L630.38 1122.95L625.08 1128.25L619.78 1122.95Z" fill="#ec0a8a"/>
<path d="M640.94 1203.66L646.24 1208.96L640.94 1214.26L635.64 1208.96Z" fill="#ec0a8a"/>
<path d="M656.79 1110.66L662.09 1115.96L656.79 1121.26L651.5 1115.96Z" fill="#ec0a8a"/>
<path d="M672.65 1138.23L677.95 1143.53L672.65 1148.83L667.35 1143.53Z" fill="#ec0a8a"/>
<path d="M688.51 1138.23L693.81 1143.53L688.51 1148.83L683.21 1143.53Z" fill="#ec0a8a"/>
<path d="M704.37 1155.1L709.67 1160.4L704.37 1165.7L699.07 1160.4Z" fill="#ec0a8a"/>
<path d="M720.22 1102.43L725.52 1107.73L720.22 1113.03L714.92 1107.73Z" fill="#ec0a8a"/>
<path d="M751.94 1120.54L757.24 1125.84L751.94 1131.14L746.64 1125.84Z" fill="#ec0a8a"/>
<path d="M767.79 1101.19L773.09 1106.49L767.79 1111.79L762.49 1106.49Z" fill="#ec0a8a"/>
<circle cx="149.37" cy="974.4" r="4.5" fill="#0a76bf"/>
<circle cx="212.8" cy="1060.82" r="4.5" fill="#0a76bf"/>
<circle cx="228.66" cy="1024.61" r="4.5" fill="#0a76bf"/>
<circle cx="244.51" cy="1028.72" r="4.5" fill="#0a76bf"/>
<circle cx="260.37" cy="1024.61" r="4.5" fill="#0a76bf"/>
<circle cx="276.23" cy="1038.19" r="4.5" fill="#0a76bf"/>
<circle cx="292.08" cy="1010.2" r="4.5" fill="#0a76bf"/>
<circle cx="307.94" cy="1001.56" r="4.5" fill="#0a76bf"/>
<circle cx="323.8" cy="1003.21" r="4.5" fill="#0a76bf"/>
<circle cx="339.65" cy="1062.05" r="4.5" fill="#0a76bf"/>
<circle cx="355.51" cy="1075.63" r="4.5" fill="#0a76bf"/>
<circle cx="371.37" cy="1049.71" r="4.5" fill="#0a76bf"/>
<circle cx="387.23" cy="1085.51" r="4.5" fill="#0a76bf"/>
<circle cx="403.08" cy="1097.85" r="4.5" fill="#0a76bf"/>
<circle cx="418.94" cy="1100.32" r="4.5" fill="#0a76bf"/>
<circle cx="434.8" cy="1098.68" r="4.5" fill="#0a76bf"/>
<circle cx="450.65" cy="1110.61" r="4.5" fill="#0a76bf"/>
<circle cx="466.51" cy="1114.72" r="4.5" fill="#0a76bf"/>
<circle cx="482.37" cy="1104.44" r="4.5" fill="#0a76bf"/>
<circle cx="498.22" cy="1102.38" r="4.5" fill="#0a76bf"/>
<circle cx="514.08" cy="1110.61" r="4.5" fill="#0a76bf"/>
<circle cx="529.94" cy="1102.38" r="4.5" fill="#0a76bf"/>
<circle cx="545.8" cy="1101.15" r="4.5" fill="#0a76bf"/>
<circle cx="561.65" cy="1061.23" r="4.5" fill="#0a76bf"/>
<circle cx="577.51" cy="958.35" r="4.5" fill="#0a76bf"/>
<circle cx="593.37" cy="1155.05" r="4.5" fill="#0a76bf"/>
<circle cx="609.22" cy="1139.83" r="4.5" fill="#0a76bf"/>
<circle cx="625.08" cy="1115.96" r="4.5" fill="#0a76bf"/>
<circle cx="640.94" cy="1164.93" r="4.5" fill="#0a76bf"/>
<circle cx="656.79" cy="1096.21" r="4.5" fill="#0a76bf"/>
<circle cx="672.65" cy="1127.07" r="4.5" fill="#0a76bf"/>
<circle cx="688.51" cy="1142.3" r="4.5" fill="#0a76bf"/>
<circle cx="704.37" cy="1142.71" r="4.5" fill="#0a76bf"/>
<circle cx="720.22" cy="1078.92" r="4.5" fill="#0a76bf"/>
<circle cx="751.94" cy="1100.73" r="4.5" fill="#0a76bf"/>
<circle cx="767.79" cy="1079.75" r="4.5" fill="#0a76bf"/>
<path d="M144.77 977.7L153.97 977.7L149.37 986.2Z" fill="#8d2a90"/>
<path d="M208.2 1062.47L217.4 1062.47L212.8 1070.97Z" fill="#8d2a90"/>
<path d="M224.06 1027.9L233.26 1027.9L228.66 1036.4Z" fill="#8d2a90"/>
<path d="M239.91 1027.49L249.11 1027.49L244.51 1035.99Z" fill="#8d2a90"/>
<path d="M255.77 1032.84L264.97 1032.84L260.37 1041.34Z" fill="#8d2a90"/>
<path d="M271.63 1041.07L280.83 1041.07L276.23 1049.57Z" fill="#8d2a90"/>
<path d="M287.48 1012.68L296.68 1012.68L292.08 1021.18Z" fill="#8d2a90"/>
<path d="M303.34 994.98L312.54 994.98L307.94 1003.48Z" fill="#8d2a90"/>
<path d="M319.2 1009.38L328.4 1009.38L323.8 1017.88Z" fill="#8d2a90"/>
<path d="M335.05 1065.76L344.25 1065.76L339.65 1074.26Z" fill="#8d2a90"/>
<path d="M350.91 1080.99L360.11 1080.99L355.51 1089.49Z" fill="#8d2a90"/>
<path d="M366.77 1053L375.97 1053L371.37 1061.5Z" fill="#8d2a90"/>
<path d="M382.63 1094.98L391.83 1094.98L387.23 1103.48Z" fill="#8d2a90"/>
<path d="M398.48 1096.62L407.68 1096.62L403.08 1105.12Z" fill="#8d2a90"/>
<path d="M414.34 1100.74L423.54 1100.74L418.94 1109.24Z" fill="#8d2a90"/>
<path d="M430.2 1106.09L439.4 1106.09L434.8 1114.59Z" fill="#8d2a90"/>
<path d="M446.05 1106.91L455.25 1106.91L450.65 1115.41Z" fill="#8d2a90"/>
<path d="M461.91 1110.2L471.11 1110.2L466.51 1118.7Z" fill="#8d2a90"/>
<path d="M477.77 1106.09L486.97 1106.09L482.37 1114.59Z" fill="#8d2a90"/>
<path d="M493.62 1096.21L502.82 1096.21L498.22 1104.71Z" fill="#8d2a90"/>
<path d="M509.48 1113.08L518.68 1113.08L514.08 1121.58Z" fill="#8d2a90"/>
<path d="M525.34 1098.68L534.54 1098.68L529.94 1107.18Z" fill="#8d2a90"/>
<path d="M541.2 1099.5L550.4 1099.5L545.8 1108Z" fill="#8d2a90"/>
<path d="M557.05 1055.47L566.25 1055.47L561.65 1063.97Z" fill="#8d2a90"/>
<path d="M572.91 954.65L582.11 954.65L577.51 963.15Z" fill="#8d2a90"/>
<path d="M588.77 1161.23L597.97 1161.23L593.37 1169.73Z" fill="#8d2a90"/>
<path d="M604.62 1143.94L613.82 1143.94L609.22 1152.44Z" fill="#8d2a90"/>
<path d="M620.48 1115.14L629.68 1115.14L625.08 1123.64Z" fill="#8d2a90"/>
<path d="M636.34 1166.58L645.54 1166.58L640.94 1175.08Z" fill="#8d2a90"/>
<path d="M652.19 1098.27L661.39 1098.27L656.79 1106.77Z" fill="#8d2a90"/>
<path d="M668.05 1124.6L677.25 1124.6L672.65 1133.1Z" fill="#8d2a90"/>
<path d="M683.91 1137.77L693.11 1137.77L688.51 1146.27Z" fill="#8d2a90"/>
<path d="M699.77 1145.18L708.97 1145.18L704.37 1153.68Z" fill="#8d2a90"/>
<path d="M715.62 1084.69L724.82 1084.69L720.22 1093.19Z" fill="#8d2a90"/>
<path d="M747.34 1115.14L756.54 1115.14L751.94 1123.64Z" fill="#8d2a90"/>
<path d="M763.19 1087.98L772.39 1087.98L767.79 1096.48Z" fill="#8d2a90"/>
<rect x="145.27" y="976.06" width="8.2" height="8.2" fill="#fcaf17"/>
<rect x="208.7" y="1075.24" width="8.2" height="8.2" fill="#fcaf17"/>
<rect x="224.56" y="1041.9" width="8.2" height="8.2" fill="#fcaf17"/>
<rect x="240.41" y="1039.44" width="8.2" height="8.2" fill="#fcaf17"/>
<rect x="256.27" y="1044.78" width="8.2" height="8.2" fill="#fcaf17"/>
<rect x="272.13" y="1047.67" width="8.2" height="8.2" fill="#fcaf17"/>
<rect x="287.98" y="1020.92" width="8.2" height="8.2" fill="#fcaf17"/>
<rect x="303.84" y="1023.39" width="8.2" height="8.2" fill="#fcaf17"/>
<rect x="319.7" y="1027.09" width="8.2" height="8.2" fill="#fcaf17"/>
<rect x="335.55" y="1064.13" width="8.2" height="8.2" fill="#fcaf17"/>
<rect x="351.41" y="1095.4" width="8.2" height="8.2" fill="#fcaf17"/>
<rect x="367.27" y="1078.53" width="8.2" height="8.2" fill="#fcaf17"/>
<rect x="383.13" y="1106.51" width="8.2" height="8.2" fill="#fcaf17"/>
<rect x="398.98" y="1113.92" width="8.2" height="8.2" fill="#fcaf17"/>
<rect x="414.84" y="1099.93" width="8.2" height="8.2" fill="#fcaf17"/>
<rect x="430.7" y="1111.04" width="8.2" height="8.2" fill="#fcaf17"/>
<rect x="446.55" y="1104.86" width="8.2" height="8.2" fill="#fcaf17"/>
<rect x="462.41" y="1117.21" width="8.2" height="8.2" fill="#fcaf17"/>
<rect x="478.27" y="1134.9" width="8.2" height="8.2" fill="#fcaf17"/>
<rect x="494.12" y="1103.63" width="8.2" height="8.2" fill="#fcaf17"/>
<rect x="509.98" y="1111.45" width="8.2" height="8.2" fill="#fcaf17"/>
<rect x="525.84" y="1097.05" width="8.2" height="8.2" fill="#fcaf17"/>
<rect x="541.7" y="1104.86" width="8.2" height="8.2" fill="#fcaf17"/>
<rect x="557.55" y="1063.3" width="8.2" height="8.2" fill="#fcaf17"/>
<rect x="573.41" y="943.97" width="8.2" height="8.2" fill="#fcaf17"/>
<rect x="589.27" y="1174.41" width="8.2" height="8.2" fill="#fcaf17"/>
<rect x="605.12" y="1151.78" width="8.2" height="8.2" fill="#fcaf17"/>
<rect x="620.98" y="1102.81" width="8.2" height="8.2" fill="#fcaf17"/>
<rect x="636.84" y="1173.58" width="8.2" height="8.2" fill="#fcaf17"/>
<rect x="652.69" y="1110.62" width="8.2" height="8.2" fill="#fcaf17"/>
<rect x="668.55" y="1141.9" width="8.2" height="8.2" fill="#fcaf17"/>
<rect x="684.41" y="1148.48" width="8.2" height="8.2" fill="#fcaf17"/>
<rect x="700.27" y="1149.72" width="8.2" height="8.2" fill="#fcaf17"/>
<rect x="716.12" y="1090.46" width="8.2" height="8.2" fill="#fcaf17"/>
<rect x="747.84" y="1110.62" width="8.2" height="8.2" fill="#fcaf17"/>
<rect x="763.69" y="1109.8" width="8.2" height="8.2" fill="#fcaf17"/>
<path d="M212.8 1063.34L218.1 1068.64L212.8 1073.94L207.5 1068.64Z" fill="#ec1c24"/>
<path d="M228.66 1038.65L233.96 1043.95L228.66 1049.25L223.36 1043.95Z" fill="#ec1c24"/>
<path d="M244.51 1043.58L249.81 1048.88L244.51 1054.18L239.21 1048.88Z" fill="#ec1c24"/>
<path d="M260.37 1038.24L265.67 1043.54L260.37 1048.84L255.07 1043.54Z" fill="#ec1c24"/>
<path d="M276.23 1038.24L281.53 1043.54L276.23 1048.84L270.93 1043.54Z" fill="#ec1c24"/>
<path d="M292.08 1022.19L297.38 1027.49L292.08 1032.79L286.78 1027.49Z" fill="#ec1c24"/>
<path d="M307.94 1019.31L313.24 1024.61L307.94 1029.91L302.64 1024.61Z" fill="#ec1c24"/>
<path d="M323.8 1028.36L329.1 1033.66L323.8 1038.96L318.5 1033.66Z" fill="#ec1c24"/>
<path d="M339.65 1068.27L344.95 1073.57L339.65 1078.87L334.35 1073.57Z" fill="#ec1c24"/>
<path d="M355.51 1083.5L360.81 1088.8L355.51 1094.1L350.21 1088.8Z" fill="#ec1c24"/>
<path d="M371.37 1065.81L376.67 1071.11L371.37 1076.41L366.07 1071.11Z" fill="#ec1c24"/>
<path d="M387.23 1102.02L392.53 1107.32L387.23 1112.62L381.93 1107.32Z" fill="#ec1c24"/>
<path d="M403.08 1109.01L408.38 1114.31L403.08 1119.61L397.78 1114.31Z" fill="#ec1c24"/>
<path d="M418.94 1107.78L424.24 1113.08L418.94 1118.38L413.64 1113.08Z" fill="#ec1c24"/>
<path d="M434.8 1115.19L440.1 1120.49L434.8 1125.79L429.5 1120.49Z" fill="#ec1c24"/>
<path d="M450.65 1122.59L455.95 1127.89L450.65 1133.19L445.35 1127.89Z" fill="#ec1c24"/>
<path d="M466.51 1123.83L471.81 1129.13L466.51 1134.43L461.21 1129.13Z" fill="#ec1c24"/>
<path d="M482.37 1118.48L487.67 1123.78L482.37 1129.08L477.07 1123.78Z" fill="#ec1c24"/>
<path d="M498.22 1111.89L503.52 1117.19L498.22 1122.49L492.92 1117.19Z" fill="#ec1c24"/>
<path d="M514.08 1090.91L519.38 1096.21L514.08 1101.51L508.78 1096.21Z" fill="#ec1c24"/>
<path d="M529.94 1089.67L535.24 1094.97L529.94 1100.27L524.64 1094.97Z" fill="#ec1c24"/>
<path d="M545.8 1120.12L551.1 1125.42L545.8 1130.72L540.5 1125.42Z" fill="#ec1c24"/>
<path d="M561.65 1064.98L566.95 1070.28L561.65 1075.58L556.35 1070.28Z" fill="#ec1c24"/>
<path d="M577.51 946.06L582.81 951.36L577.51 956.66L572.21 951.36Z" fill="#ec1c24"/>
<path d="M593.37 1169.09L598.67 1174.39L593.37 1179.69L588.07 1174.39Z" fill="#ec1c24"/>
<path d="M609.22 1145.64L614.52 1150.94L609.22 1156.24L603.92 1150.94Z" fill="#ec1c24"/>
<path d="M625.08 1122.18L630.38 1127.48L625.08 1132.78L619.78 1127.48Z" fill="#ec1c24"/>
<path d="M640.94 1179.79L646.24 1185.09L640.94 1190.39L635.64 1185.09Z" fill="#ec1c24"/>
<path d="M656.79 1105.72L662.09 1111.02L656.79 1116.32L651.5 1111.02Z" fill="#ec1c24"/>
<path d="M672.65 1137L677.95 1142.3L672.65 1147.6L667.35 1142.3Z" fill="#ec1c24"/>
<path d="M688.51 1137.41L693.81 1142.71L688.51 1148.01L683.21 1142.71Z" fill="#ec1c24"/>
<path d="M704.37 1149.34L709.67 1154.64L704.37 1159.94L699.07 1154.64Z" fill="#ec1c24"/>
<path d="M720.22 1118.07L725.52 1123.37L720.22 1128.67L714.92 1123.37Z" fill="#ec1c24"/>
<path d="M751.94 1115.19L757.24 1120.49L751.94 1125.79L746.64 1120.49Z" fill="#ec1c24"/>
<path d="M767.79 1099.55L773.09 1104.85L767.79 1110.15L762.49 1104.85Z" fill="#ec1c24"/>
</g>
<g>
<path d="M793.6 890.2H844.9" stroke="#0ba54f" stroke-width="4" stroke-linecap="round" fill="none"/>
<circle cx="819.3" cy="889.1" r="6.4" fill="#0ba54f"/>
<text class="lg" x="852.48" y="898.3" textLength="24.7" lengthAdjust="spacingAndGlyphs">C1</text>
<path d="M793.6 913.58H844.9" stroke="#bfb18f" stroke-width="4" stroke-linecap="round" fill="none"/>
<path d="M813 908.18L825.6 908.18L819.3 919.58Z" fill="#bfb18f"/>
<text class="lg" x="852.36" y="921.68" textLength="27.83" lengthAdjust="spacingAndGlyphs">C6</text>
<path d="M793.6 936.96H844.9" stroke="#00b3e8" stroke-width="4" stroke-linecap="round" fill="none"/>
<rect x="812.9" y="929.56" width="12.8" height="12.8" fill="#00b3e8"/>
<text class="lg" x="852.36" y="945.06" textLength="27.89" lengthAdjust="spacingAndGlyphs">C9</text>
<path d="M793.6 960.34H844.9" stroke="#ec0a8a" stroke-width="4" stroke-linecap="round" fill="none"/>
<path d="M819.3 953.04L825.8 960.04L819.3 967.04L812.8 960.04Z" fill="#ec0a8a"/>
<text class="lg" x="852.69" y="968.44" textLength="35.86" lengthAdjust="spacingAndGlyphs">E51</text>
<path d="M793.6 983.72H844.9" stroke="#0a76bf" stroke-width="4" stroke-linecap="round" fill="none"/>
<circle cx="819.3" cy="982.62" r="6.4" fill="#0a76bf"/>
<text class="lg" x="852.49" y="991.82" textLength="40.22" lengthAdjust="spacingAndGlyphs">K39</text>
<path d="M793.6 1007.1H844.9" stroke="#8d2a90" stroke-width="4" stroke-linecap="round" fill="none"/>
<path d="M813 1001.7L825.6 1001.7L819.3 1013.1Z" fill="#8d2a90"/>
<text class="lg" x="852.46" y="1015.2" textLength="40.67" lengthAdjust="spacingAndGlyphs">K42</text>
<path d="M793.6 1030.48H844.9" stroke="#fcaf17" stroke-width="4" stroke-linecap="round" fill="none"/>
<rect x="812.9" y="1023.08" width="12.8" height="12.8" fill="#fcaf17"/>
<text class="lg" x="852.56" y="1038.58" textLength="38.7" lengthAdjust="spacingAndGlyphs">K45</text>
<path d="M793.6 1053.86H844.9" stroke="#ec1c24" stroke-width="4" stroke-linecap="round" fill="none"/>
<path d="M819.3 1046.56L825.8 1053.56L819.3 1060.56L812.8 1053.56Z" fill="#ec1c24"/>
<text class="lg" x="852.54" y="1061.96" textLength="35.85" lengthAdjust="spacingAndGlyphs">S15</text>
</g>
</g>
</svg>
</body>
</html>
